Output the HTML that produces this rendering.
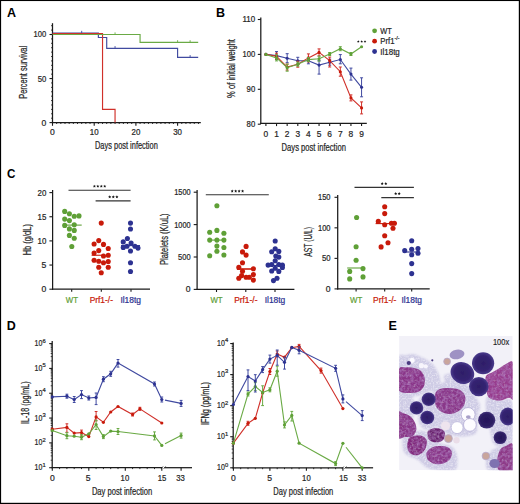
<!DOCTYPE html>
<html><head><meta charset="utf-8"><style>
html,body{margin:0;padding:0;background:#fff;}
svg{display:block;}
text{font-family:"Liberation Sans",sans-serif;}
</style></head><body>
<svg width="520" height="504" viewBox="0 0 520 504">
<rect x="0" y="0" width="520" height="504" fill="#fff"/>
<line x1="51.10" y1="118.19" x2="52.50" y2="118.19" stroke="#1a1a1a" stroke-width="0.9" />
<line x1="51.10" y1="113.79" x2="52.50" y2="113.79" stroke="#1a1a1a" stroke-width="0.9" />
<line x1="51.10" y1="109.38" x2="52.50" y2="109.38" stroke="#1a1a1a" stroke-width="0.9" />
<line x1="51.10" y1="104.98" x2="52.50" y2="104.98" stroke="#1a1a1a" stroke-width="0.9" />
<line x1="51.10" y1="100.57" x2="52.50" y2="100.57" stroke="#1a1a1a" stroke-width="0.9" />
<line x1="51.10" y1="96.17" x2="52.50" y2="96.17" stroke="#1a1a1a" stroke-width="0.9" />
<line x1="51.10" y1="91.77" x2="52.50" y2="91.77" stroke="#1a1a1a" stroke-width="0.9" />
<line x1="51.10" y1="87.36" x2="52.50" y2="87.36" stroke="#1a1a1a" stroke-width="0.9" />
<line x1="51.10" y1="82.95" x2="52.50" y2="82.95" stroke="#1a1a1a" stroke-width="0.9" />
<line x1="51.10" y1="74.15" x2="52.50" y2="74.15" stroke="#1a1a1a" stroke-width="0.9" />
<line x1="51.10" y1="69.74" x2="52.50" y2="69.74" stroke="#1a1a1a" stroke-width="0.9" />
<line x1="51.10" y1="65.34" x2="52.50" y2="65.34" stroke="#1a1a1a" stroke-width="0.9" />
<line x1="51.10" y1="60.93" x2="52.50" y2="60.93" stroke="#1a1a1a" stroke-width="0.9" />
<line x1="51.10" y1="56.53" x2="52.50" y2="56.53" stroke="#1a1a1a" stroke-width="0.9" />
<line x1="51.10" y1="52.12" x2="52.50" y2="52.12" stroke="#1a1a1a" stroke-width="0.9" />
<line x1="51.10" y1="47.72" x2="52.50" y2="47.72" stroke="#1a1a1a" stroke-width="0.9" />
<line x1="51.10" y1="43.31" x2="52.50" y2="43.31" stroke="#1a1a1a" stroke-width="0.9" />
<line x1="51.10" y1="38.91" x2="52.50" y2="38.91" stroke="#1a1a1a" stroke-width="0.9" />
<line x1="51.10" y1="30.09" x2="52.50" y2="30.09" stroke="#1a1a1a" stroke-width="0.9" />
<line x1="51.10" y1="25.69" x2="52.50" y2="25.69" stroke="#1a1a1a" stroke-width="0.9" />
<line x1="49.50" y1="122.60" x2="52.50" y2="122.60" stroke="#1a1a1a" stroke-width="1.1" />
<line x1="49.50" y1="78.55" x2="52.50" y2="78.55" stroke="#1a1a1a" stroke-width="1.1" />
<line x1="49.50" y1="34.50" x2="52.50" y2="34.50" stroke="#1a1a1a" stroke-width="1.1" />
<line x1="56.67" y1="122.60" x2="56.67" y2="124.00" stroke="#1a1a1a" stroke-width="0.9" />
<line x1="60.84" y1="122.60" x2="60.84" y2="124.00" stroke="#1a1a1a" stroke-width="0.9" />
<line x1="65.01" y1="122.60" x2="65.01" y2="124.00" stroke="#1a1a1a" stroke-width="0.9" />
<line x1="69.18" y1="122.60" x2="69.18" y2="124.00" stroke="#1a1a1a" stroke-width="0.9" />
<line x1="73.35" y1="122.60" x2="73.35" y2="124.00" stroke="#1a1a1a" stroke-width="0.9" />
<line x1="77.52" y1="122.60" x2="77.52" y2="124.00" stroke="#1a1a1a" stroke-width="0.9" />
<line x1="81.69" y1="122.60" x2="81.69" y2="124.00" stroke="#1a1a1a" stroke-width="0.9" />
<line x1="85.86" y1="122.60" x2="85.86" y2="124.00" stroke="#1a1a1a" stroke-width="0.9" />
<line x1="90.03" y1="122.60" x2="90.03" y2="124.00" stroke="#1a1a1a" stroke-width="0.9" />
<line x1="98.37" y1="122.60" x2="98.37" y2="124.00" stroke="#1a1a1a" stroke-width="0.9" />
<line x1="102.54" y1="122.60" x2="102.54" y2="124.00" stroke="#1a1a1a" stroke-width="0.9" />
<line x1="106.71" y1="122.60" x2="106.71" y2="124.00" stroke="#1a1a1a" stroke-width="0.9" />
<line x1="110.88" y1="122.60" x2="110.88" y2="124.00" stroke="#1a1a1a" stroke-width="0.9" />
<line x1="115.05" y1="122.60" x2="115.05" y2="124.00" stroke="#1a1a1a" stroke-width="0.9" />
<line x1="119.22" y1="122.60" x2="119.22" y2="124.00" stroke="#1a1a1a" stroke-width="0.9" />
<line x1="123.39" y1="122.60" x2="123.39" y2="124.00" stroke="#1a1a1a" stroke-width="0.9" />
<line x1="127.56" y1="122.60" x2="127.56" y2="124.00" stroke="#1a1a1a" stroke-width="0.9" />
<line x1="131.73" y1="122.60" x2="131.73" y2="124.00" stroke="#1a1a1a" stroke-width="0.9" />
<line x1="140.07" y1="122.60" x2="140.07" y2="124.00" stroke="#1a1a1a" stroke-width="0.9" />
<line x1="144.24" y1="122.60" x2="144.24" y2="124.00" stroke="#1a1a1a" stroke-width="0.9" />
<line x1="148.41" y1="122.60" x2="148.41" y2="124.00" stroke="#1a1a1a" stroke-width="0.9" />
<line x1="152.58" y1="122.60" x2="152.58" y2="124.00" stroke="#1a1a1a" stroke-width="0.9" />
<line x1="156.75" y1="122.60" x2="156.75" y2="124.00" stroke="#1a1a1a" stroke-width="0.9" />
<line x1="160.92" y1="122.60" x2="160.92" y2="124.00" stroke="#1a1a1a" stroke-width="0.9" />
<line x1="165.09" y1="122.60" x2="165.09" y2="124.00" stroke="#1a1a1a" stroke-width="0.9" />
<line x1="169.26" y1="122.60" x2="169.26" y2="124.00" stroke="#1a1a1a" stroke-width="0.9" />
<line x1="173.43" y1="122.60" x2="173.43" y2="124.00" stroke="#1a1a1a" stroke-width="0.9" />
<line x1="181.77" y1="122.60" x2="181.77" y2="124.00" stroke="#1a1a1a" stroke-width="0.9" />
<line x1="185.94" y1="122.60" x2="185.94" y2="124.00" stroke="#1a1a1a" stroke-width="0.9" />
<line x1="190.11" y1="122.60" x2="190.11" y2="124.00" stroke="#1a1a1a" stroke-width="0.9" />
<line x1="194.28" y1="122.60" x2="194.28" y2="124.00" stroke="#1a1a1a" stroke-width="0.9" />
<line x1="198.45" y1="122.60" x2="198.45" y2="124.00" stroke="#1a1a1a" stroke-width="0.9" />
<line x1="52.50" y1="122.60" x2="52.50" y2="125.80" stroke="#1a1a1a" stroke-width="1.1" />
<line x1="94.20" y1="122.60" x2="94.20" y2="125.80" stroke="#1a1a1a" stroke-width="1.1" />
<line x1="135.90" y1="122.60" x2="135.90" y2="125.80" stroke="#1a1a1a" stroke-width="1.1" />
<line x1="177.60" y1="122.60" x2="177.60" y2="125.80" stroke="#1a1a1a" stroke-width="1.1" />
<line x1="52.50" y1="23.20" x2="52.50" y2="123.20" stroke="#1a1a1a" stroke-width="1.25" />
<line x1="51.90" y1="122.60" x2="200.80" y2="122.60" stroke="#1a1a1a" stroke-width="1.25" />
<text x="46.30" y="37.46" font-size="8.6" text-anchor="end" fill="#262626" font-weight="normal" stroke="#262626" stroke-width="0.22" textLength="12.70" lengthAdjust="spacingAndGlyphs" >100</text>
<text x="46.30" y="81.51" font-size="8.6" text-anchor="end" fill="#262626" font-weight="normal" stroke="#262626" stroke-width="0.22" textLength="8.60" lengthAdjust="spacingAndGlyphs" >50</text>
<text x="46.30" y="125.56" font-size="8.6" text-anchor="end" fill="#262626" font-weight="normal" stroke="#262626" stroke-width="0.22" >0</text>
<text x="52.50" y="134.76" font-size="8.6" text-anchor="middle" fill="#262626" font-weight="normal" stroke="#262626" stroke-width="0.22" >0</text>
<text x="94.20" y="134.76" font-size="8.6" text-anchor="middle" fill="#262626" font-weight="normal" stroke="#262626" stroke-width="0.22" textLength="8.80" lengthAdjust="spacingAndGlyphs" >10</text>
<text x="135.90" y="134.76" font-size="8.6" text-anchor="middle" fill="#262626" font-weight="normal" stroke="#262626" stroke-width="0.22" textLength="8.80" lengthAdjust="spacingAndGlyphs" >20</text>
<text x="177.60" y="134.76" font-size="8.6" text-anchor="middle" fill="#262626" font-weight="normal" stroke="#262626" stroke-width="0.22" textLength="8.80" lengthAdjust="spacingAndGlyphs" >30</text>
<text transform="translate(26.90,72.30) rotate(-90)" font-size="10.0" text-anchor="middle" fill="#262626" stroke="#262626" stroke-width="0.22" textLength="52.90" lengthAdjust="spacingAndGlyphs">Percent survival</text>
<text x="95.00" y="148.70" font-size="10.0" text-anchor="start" fill="#262626" font-weight="normal" stroke="#262626" stroke-width="0.22" textLength="62.80" lengthAdjust="spacingAndGlyphs" >Days post infection</text>
<polyline points="52.50,33.00 98.37,33.00 98.37,37.50 106.71,37.50 106.71,48.30 177.60,48.30 177.60,57.30 198.20,57.30" fill="none" stroke="#404aa0" stroke-width="1.15" stroke-linejoin="miter" />
<polyline points="52.50,33.50 102.54,33.50 102.54,109.40 115.05,109.40 115.05,122.60" fill="none" stroke="#d0302a" stroke-width="1.15" stroke-linejoin="miter" />
<polyline points="52.50,34.50 140.07,34.50 140.07,42.40 198.20,42.40" fill="none" stroke="#6aaa45" stroke-width="1.15" stroke-linejoin="miter" />
<line x1="81.69" y1="33.00" x2="81.69" y2="30.80" stroke="#404aa0" stroke-width="0.9" />
<line x1="115.05" y1="34.60" x2="115.05" y2="32.40" stroke="#6aaa45" stroke-width="0.9" />
<line x1="115.05" y1="48.30" x2="115.05" y2="46.10" stroke="#404aa0" stroke-width="0.9" />
<line x1="177.60" y1="42.40" x2="177.60" y2="40.20" stroke="#6aaa45" stroke-width="0.9" />
<line x1="190.11" y1="42.40" x2="190.11" y2="40.20" stroke="#6aaa45" stroke-width="0.9" />
<line x1="190.11" y1="57.30" x2="190.11" y2="55.10" stroke="#404aa0" stroke-width="0.9" />
<text x="7.00" y="17.10" font-size="12.5" text-anchor="start" fill="#000" font-weight="bold" >A</text>
<line x1="257.80" y1="19.50" x2="260.80" y2="19.50" stroke="#1a1a1a" stroke-width="1.1" />
<text x="255.20" y="22.46" font-size="8.6" text-anchor="end" fill="#262626" font-weight="normal" stroke="#262626" stroke-width="0.22" textLength="12.70" lengthAdjust="spacingAndGlyphs" >110</text>
<line x1="257.80" y1="54.40" x2="260.80" y2="54.40" stroke="#1a1a1a" stroke-width="1.1" />
<text x="255.20" y="57.36" font-size="8.6" text-anchor="end" fill="#262626" font-weight="normal" stroke="#262626" stroke-width="0.22" textLength="12.70" lengthAdjust="spacingAndGlyphs" >100</text>
<line x1="257.80" y1="89.30" x2="260.80" y2="89.30" stroke="#1a1a1a" stroke-width="1.1" />
<text x="255.20" y="92.26" font-size="8.6" text-anchor="end" fill="#262626" font-weight="normal" stroke="#262626" stroke-width="0.22" textLength="8.60" lengthAdjust="spacingAndGlyphs" >90</text>
<line x1="257.80" y1="124.20" x2="260.80" y2="124.20" stroke="#1a1a1a" stroke-width="1.1" />
<text x="255.20" y="127.16" font-size="8.6" text-anchor="end" fill="#262626" font-weight="normal" stroke="#262626" stroke-width="0.22" textLength="8.60" lengthAdjust="spacingAndGlyphs" >80</text>
<line x1="265.90" y1="123.30" x2="265.90" y2="126.10" stroke="#1a1a1a" stroke-width="1.1" />
<text x="265.90" y="137.09" font-size="8.4" text-anchor="middle" fill="#262626" font-weight="normal" stroke="#262626" stroke-width="0.22" >0</text>
<line x1="276.53" y1="123.30" x2="276.53" y2="126.10" stroke="#1a1a1a" stroke-width="1.1" />
<text x="276.53" y="137.09" font-size="8.4" text-anchor="middle" fill="#262626" font-weight="normal" stroke="#262626" stroke-width="0.22" >1</text>
<line x1="287.16" y1="123.30" x2="287.16" y2="126.10" stroke="#1a1a1a" stroke-width="1.1" />
<text x="287.16" y="137.09" font-size="8.4" text-anchor="middle" fill="#262626" font-weight="normal" stroke="#262626" stroke-width="0.22" >2</text>
<line x1="297.79" y1="123.30" x2="297.79" y2="126.10" stroke="#1a1a1a" stroke-width="1.1" />
<text x="297.79" y="137.09" font-size="8.4" text-anchor="middle" fill="#262626" font-weight="normal" stroke="#262626" stroke-width="0.22" >3</text>
<line x1="308.42" y1="123.30" x2="308.42" y2="126.10" stroke="#1a1a1a" stroke-width="1.1" />
<text x="308.42" y="137.09" font-size="8.4" text-anchor="middle" fill="#262626" font-weight="normal" stroke="#262626" stroke-width="0.22" >4</text>
<line x1="319.05" y1="123.30" x2="319.05" y2="126.10" stroke="#1a1a1a" stroke-width="1.1" />
<text x="319.05" y="137.09" font-size="8.4" text-anchor="middle" fill="#262626" font-weight="normal" stroke="#262626" stroke-width="0.22" >5</text>
<line x1="329.68" y1="123.30" x2="329.68" y2="126.10" stroke="#1a1a1a" stroke-width="1.1" />
<text x="329.68" y="137.09" font-size="8.4" text-anchor="middle" fill="#262626" font-weight="normal" stroke="#262626" stroke-width="0.22" >6</text>
<line x1="340.31" y1="123.30" x2="340.31" y2="126.10" stroke="#1a1a1a" stroke-width="1.1" />
<text x="340.31" y="137.09" font-size="8.4" text-anchor="middle" fill="#262626" font-weight="normal" stroke="#262626" stroke-width="0.22" >7</text>
<line x1="350.94" y1="123.30" x2="350.94" y2="126.10" stroke="#1a1a1a" stroke-width="1.1" />
<text x="350.94" y="137.09" font-size="8.4" text-anchor="middle" fill="#262626" font-weight="normal" stroke="#262626" stroke-width="0.22" >8</text>
<line x1="361.57" y1="123.30" x2="361.57" y2="126.10" stroke="#1a1a1a" stroke-width="1.1" />
<text x="361.57" y="137.09" font-size="8.4" text-anchor="middle" fill="#262626" font-weight="normal" stroke="#262626" stroke-width="0.22" >9</text>
<line x1="260.80" y1="17.40" x2="260.80" y2="123.90" stroke="#1a1a1a" stroke-width="1.25" />
<line x1="260.20" y1="123.30" x2="366.80" y2="123.30" stroke="#1a1a1a" stroke-width="1.25" />
<text transform="translate(235.00,68.50) rotate(-90)" font-size="10.0" text-anchor="middle" fill="#262626" stroke="#262626" stroke-width="0.22" textLength="59.00" lengthAdjust="spacingAndGlyphs">% of initial weight</text>
<text x="281.60" y="151.10" font-size="10.0" text-anchor="start" fill="#262626" font-weight="normal" stroke="#262626" stroke-width="0.22" textLength="64.30" lengthAdjust="spacingAndGlyphs" >Days post infection</text>
<text x="216.00" y="17.10" font-size="12.5" text-anchor="start" fill="#000" font-weight="bold" >B</text>
<polyline points="265.90,54.40 276.53,55.60 287.16,58.20 297.79,60.80 308.42,60.80 319.05,65.10 329.68,62.20 340.31,59.50 350.94,74.10 361.57,87.30" fill="none" stroke="#404aa0" stroke-width="1.1" stroke-linejoin="miter" />
<circle cx="265.90" cy="54.40" r="1.55" fill="#2d3291" />
<line x1="276.53" y1="51.60" x2="276.53" y2="59.60" stroke="#404aa0" stroke-width="1.0" />
<line x1="275.03" y1="51.60" x2="278.03" y2="51.60" stroke="#404aa0" stroke-width="1.0" />
<line x1="275.03" y1="59.60" x2="278.03" y2="59.60" stroke="#404aa0" stroke-width="1.0" />
<circle cx="276.53" cy="55.60" r="1.55" fill="#2d3291" />
<line x1="287.16" y1="53.70" x2="287.16" y2="62.70" stroke="#404aa0" stroke-width="1.0" />
<line x1="285.66" y1="53.70" x2="288.66" y2="53.70" stroke="#404aa0" stroke-width="1.0" />
<line x1="285.66" y1="62.70" x2="288.66" y2="62.70" stroke="#404aa0" stroke-width="1.0" />
<circle cx="287.16" cy="58.20" r="1.55" fill="#2d3291" />
<line x1="297.79" y1="57.30" x2="297.79" y2="64.30" stroke="#404aa0" stroke-width="1.0" />
<line x1="296.29" y1="57.30" x2="299.29" y2="57.30" stroke="#404aa0" stroke-width="1.0" />
<line x1="296.29" y1="64.30" x2="299.29" y2="64.30" stroke="#404aa0" stroke-width="1.0" />
<circle cx="297.79" cy="60.80" r="1.55" fill="#2d3291" />
<line x1="308.42" y1="57.80" x2="308.42" y2="63.80" stroke="#404aa0" stroke-width="1.0" />
<line x1="306.92" y1="57.80" x2="309.92" y2="57.80" stroke="#404aa0" stroke-width="1.0" />
<line x1="306.92" y1="63.80" x2="309.92" y2="63.80" stroke="#404aa0" stroke-width="1.0" />
<circle cx="308.42" cy="60.80" r="1.55" fill="#2d3291" />
<line x1="319.05" y1="60.60" x2="319.05" y2="74.10" stroke="#404aa0" stroke-width="1.0" />
<line x1="317.55" y1="60.60" x2="320.55" y2="60.60" stroke="#404aa0" stroke-width="1.0" />
<line x1="317.55" y1="74.10" x2="320.55" y2="74.10" stroke="#404aa0" stroke-width="1.0" />
<circle cx="319.05" cy="65.10" r="1.55" fill="#2d3291" />
<line x1="329.68" y1="59.20" x2="329.68" y2="65.20" stroke="#404aa0" stroke-width="1.0" />
<line x1="328.18" y1="59.20" x2="331.18" y2="59.20" stroke="#404aa0" stroke-width="1.0" />
<line x1="328.18" y1="65.20" x2="331.18" y2="65.20" stroke="#404aa0" stroke-width="1.0" />
<circle cx="329.68" cy="62.20" r="1.55" fill="#2d3291" />
<line x1="340.31" y1="54.60" x2="340.31" y2="63.80" stroke="#404aa0" stroke-width="1.0" />
<line x1="338.81" y1="54.60" x2="341.81" y2="54.60" stroke="#404aa0" stroke-width="1.0" />
<line x1="338.81" y1="63.80" x2="341.81" y2="63.80" stroke="#404aa0" stroke-width="1.0" />
<circle cx="340.31" cy="59.50" r="1.55" fill="#2d3291" />
<line x1="350.94" y1="68.10" x2="350.94" y2="80.10" stroke="#404aa0" stroke-width="1.0" />
<line x1="349.44" y1="68.10" x2="352.44" y2="68.10" stroke="#404aa0" stroke-width="1.0" />
<line x1="349.44" y1="80.10" x2="352.44" y2="80.10" stroke="#404aa0" stroke-width="1.0" />
<circle cx="350.94" cy="74.10" r="1.55" fill="#2d3291" />
<line x1="361.57" y1="77.80" x2="361.57" y2="96.80" stroke="#404aa0" stroke-width="1.0" />
<line x1="360.07" y1="77.80" x2="363.07" y2="77.80" stroke="#404aa0" stroke-width="1.0" />
<line x1="360.07" y1="96.80" x2="363.07" y2="96.80" stroke="#404aa0" stroke-width="1.0" />
<circle cx="361.57" cy="87.30" r="1.55" fill="#2d3291" />
<polyline points="265.90,54.40 276.53,56.20 287.16,67.10 297.79,64.20 308.42,57.90 319.05,52.40 329.68,60.60 340.31,71.70 350.94,97.90 361.57,107.90" fill="none" stroke="#d0302a" stroke-width="1.1" stroke-linejoin="miter" />
<circle cx="265.90" cy="54.40" r="1.55" fill="#c81a0a" />
<line x1="276.53" y1="53.20" x2="276.53" y2="59.20" stroke="#d0302a" stroke-width="1.0" />
<line x1="275.03" y1="53.20" x2="278.03" y2="53.20" stroke="#d0302a" stroke-width="1.0" />
<line x1="275.03" y1="59.20" x2="278.03" y2="59.20" stroke="#d0302a" stroke-width="1.0" />
<circle cx="276.53" cy="56.20" r="1.55" fill="#c81a0a" />
<line x1="287.16" y1="64.10" x2="287.16" y2="70.10" stroke="#d0302a" stroke-width="1.0" />
<line x1="285.66" y1="64.10" x2="288.66" y2="64.10" stroke="#d0302a" stroke-width="1.0" />
<line x1="285.66" y1="70.10" x2="288.66" y2="70.10" stroke="#d0302a" stroke-width="1.0" />
<circle cx="287.16" cy="67.10" r="1.55" fill="#c81a0a" />
<line x1="297.79" y1="61.20" x2="297.79" y2="67.20" stroke="#d0302a" stroke-width="1.0" />
<line x1="296.29" y1="61.20" x2="299.29" y2="61.20" stroke="#d0302a" stroke-width="1.0" />
<line x1="296.29" y1="67.20" x2="299.29" y2="67.20" stroke="#d0302a" stroke-width="1.0" />
<circle cx="297.79" cy="64.20" r="1.55" fill="#c81a0a" />
<line x1="308.42" y1="53.90" x2="308.42" y2="61.90" stroke="#d0302a" stroke-width="1.0" />
<line x1="306.92" y1="53.90" x2="309.92" y2="53.90" stroke="#d0302a" stroke-width="1.0" />
<line x1="306.92" y1="61.90" x2="309.92" y2="61.90" stroke="#d0302a" stroke-width="1.0" />
<circle cx="308.42" cy="57.90" r="1.55" fill="#c81a0a" />
<line x1="319.05" y1="48.90" x2="319.05" y2="55.90" stroke="#d0302a" stroke-width="1.0" />
<line x1="317.55" y1="48.90" x2="320.55" y2="48.90" stroke="#d0302a" stroke-width="1.0" />
<line x1="317.55" y1="55.90" x2="320.55" y2="55.90" stroke="#d0302a" stroke-width="1.0" />
<circle cx="319.05" cy="52.40" r="1.55" fill="#c81a0a" />
<line x1="329.68" y1="57.10" x2="329.68" y2="67.00" stroke="#d0302a" stroke-width="1.0" />
<line x1="328.18" y1="57.10" x2="331.18" y2="57.10" stroke="#d0302a" stroke-width="1.0" />
<line x1="328.18" y1="67.00" x2="331.18" y2="67.00" stroke="#d0302a" stroke-width="1.0" />
<circle cx="329.68" cy="60.60" r="1.55" fill="#c81a0a" />
<line x1="340.31" y1="67.00" x2="340.31" y2="76.20" stroke="#d0302a" stroke-width="1.0" />
<line x1="338.81" y1="67.00" x2="341.81" y2="67.00" stroke="#d0302a" stroke-width="1.0" />
<line x1="338.81" y1="76.20" x2="341.81" y2="76.20" stroke="#d0302a" stroke-width="1.0" />
<circle cx="340.31" cy="71.70" r="1.55" fill="#c81a0a" />
<line x1="350.94" y1="94.90" x2="350.94" y2="100.90" stroke="#d0302a" stroke-width="1.0" />
<line x1="349.44" y1="94.90" x2="352.44" y2="94.90" stroke="#d0302a" stroke-width="1.0" />
<line x1="349.44" y1="100.90" x2="352.44" y2="100.90" stroke="#d0302a" stroke-width="1.0" />
<circle cx="350.94" cy="97.90" r="1.55" fill="#c81a0a" />
<line x1="361.57" y1="101.90" x2="361.57" y2="113.90" stroke="#d0302a" stroke-width="1.0" />
<line x1="360.07" y1="101.90" x2="363.07" y2="101.90" stroke="#d0302a" stroke-width="1.0" />
<line x1="360.07" y1="113.90" x2="363.07" y2="113.90" stroke="#d0302a" stroke-width="1.0" />
<circle cx="361.57" cy="107.90" r="1.55" fill="#c81a0a" />
<polyline points="265.90,54.40 276.53,57.90 287.16,67.70 297.79,64.20 308.42,59.60 319.05,58.70 329.68,54.00 340.31,48.70 350.94,54.00 361.57,46.70" fill="none" stroke="#6aaa45" stroke-width="1.1" stroke-linejoin="miter" />
<circle cx="265.90" cy="54.40" r="1.55" fill="#5fa037" />
<line x1="276.53" y1="54.90" x2="276.53" y2="60.90" stroke="#6aaa45" stroke-width="1.0" />
<line x1="275.03" y1="54.90" x2="278.03" y2="54.90" stroke="#6aaa45" stroke-width="1.0" />
<line x1="275.03" y1="60.90" x2="278.03" y2="60.90" stroke="#6aaa45" stroke-width="1.0" />
<circle cx="276.53" cy="57.90" r="1.55" fill="#5fa037" />
<line x1="287.16" y1="64.20" x2="287.16" y2="71.20" stroke="#6aaa45" stroke-width="1.0" />
<line x1="285.66" y1="64.20" x2="288.66" y2="64.20" stroke="#6aaa45" stroke-width="1.0" />
<line x1="285.66" y1="71.20" x2="288.66" y2="71.20" stroke="#6aaa45" stroke-width="1.0" />
<circle cx="287.16" cy="67.70" r="1.55" fill="#5fa037" />
<line x1="297.79" y1="62.20" x2="297.79" y2="66.20" stroke="#6aaa45" stroke-width="1.0" />
<line x1="296.29" y1="62.20" x2="299.29" y2="62.20" stroke="#6aaa45" stroke-width="1.0" />
<line x1="296.29" y1="66.20" x2="299.29" y2="66.20" stroke="#6aaa45" stroke-width="1.0" />
<circle cx="297.79" cy="64.20" r="1.55" fill="#5fa037" />
<line x1="308.42" y1="57.60" x2="308.42" y2="61.60" stroke="#6aaa45" stroke-width="1.0" />
<line x1="306.92" y1="57.60" x2="309.92" y2="57.60" stroke="#6aaa45" stroke-width="1.0" />
<line x1="306.92" y1="61.60" x2="309.92" y2="61.60" stroke="#6aaa45" stroke-width="1.0" />
<circle cx="308.42" cy="59.60" r="1.55" fill="#5fa037" />
<line x1="319.05" y1="56.20" x2="319.05" y2="61.20" stroke="#6aaa45" stroke-width="1.0" />
<line x1="317.55" y1="56.20" x2="320.55" y2="56.20" stroke="#6aaa45" stroke-width="1.0" />
<line x1="317.55" y1="61.20" x2="320.55" y2="61.20" stroke="#6aaa45" stroke-width="1.0" />
<circle cx="319.05" cy="58.70" r="1.55" fill="#5fa037" />
<line x1="329.68" y1="52.50" x2="329.68" y2="55.50" stroke="#6aaa45" stroke-width="1.0" />
<line x1="328.18" y1="52.50" x2="331.18" y2="52.50" stroke="#6aaa45" stroke-width="1.0" />
<line x1="328.18" y1="55.50" x2="331.18" y2="55.50" stroke="#6aaa45" stroke-width="1.0" />
<circle cx="329.68" cy="54.00" r="1.55" fill="#5fa037" />
<line x1="340.31" y1="46.70" x2="340.31" y2="50.70" stroke="#6aaa45" stroke-width="1.0" />
<line x1="338.81" y1="46.70" x2="341.81" y2="46.70" stroke="#6aaa45" stroke-width="1.0" />
<line x1="338.81" y1="50.70" x2="341.81" y2="50.70" stroke="#6aaa45" stroke-width="1.0" />
<circle cx="340.31" cy="48.70" r="1.55" fill="#5fa037" />
<line x1="350.94" y1="52.50" x2="350.94" y2="55.50" stroke="#6aaa45" stroke-width="1.0" />
<line x1="349.44" y1="52.50" x2="352.44" y2="52.50" stroke="#6aaa45" stroke-width="1.0" />
<line x1="349.44" y1="55.50" x2="352.44" y2="55.50" stroke="#6aaa45" stroke-width="1.0" />
<circle cx="350.94" cy="54.00" r="1.55" fill="#5fa037" />
<circle cx="361.57" cy="46.70" r="1.55" fill="#5fa037" />
<circle cx="374.60" cy="30.80" r="2.4" fill="#5fa037" />
<circle cx="374.60" cy="41.20" r="2.4" fill="#c81a0a" />
<circle cx="374.60" cy="51.50" r="2.4" fill="#2d3291" />
<text x="380.30" y="33.90" font-size="8.8" text-anchor="start" fill="#262626" font-weight="normal" stroke="#262626" stroke-width="0.22" textLength="11.50" lengthAdjust="spacingAndGlyphs" >WT</text>
<text x="380.30" y="44.30" font-size="8.8" text-anchor="start" fill="#262626" font-weight="normal" stroke="#262626" stroke-width="0.22" textLength="14.20" lengthAdjust="spacingAndGlyphs" >Prf1</text>
<text x="394.60" y="39.60" font-size="5" text-anchor="start" fill="#262626" font-weight="normal" stroke="#262626" stroke-width="0.22" textLength="5.00" lengthAdjust="spacingAndGlyphs" >-/-</text>
<text x="380.30" y="54.60" font-size="8.8" text-anchor="start" fill="#262626" font-weight="normal" stroke="#262626" stroke-width="0.22" textLength="19.50" lengthAdjust="spacingAndGlyphs" >Il18tg</text>
<polygon points="358.30,40.15 358.70,40.95 359.58,41.08 358.94,41.71 359.09,42.59 358.30,42.17 357.51,42.59 357.66,41.71 357.02,41.08 357.90,40.95" fill="#1a1a1a"/>
<polygon points="361.70,40.15 362.10,40.95 362.98,41.08 362.34,41.71 362.49,42.59 361.70,42.17 360.91,42.59 361.06,41.71 360.42,41.08 361.30,40.95" fill="#1a1a1a"/>
<polygon points="365.00,40.15 365.40,40.95 366.28,41.08 365.64,41.71 365.79,42.59 365.00,42.17 364.21,42.59 364.36,41.71 363.72,41.08 364.60,40.95" fill="#1a1a1a"/>
<text x="7.00" y="177.60" font-size="12.5" text-anchor="start" fill="#000" font-weight="bold" textLength="8.40" lengthAdjust="spacingAndGlyphs" >C</text>
<line x1="49.40" y1="192.60" x2="52.60" y2="192.60" stroke="#1a1a1a" stroke-width="1.1" />
<text x="46.40" y="195.56" font-size="8.6" text-anchor="end" fill="#262626" font-weight="normal" stroke="#262626" stroke-width="0.22" textLength="8.80" lengthAdjust="spacingAndGlyphs" >20</text>
<line x1="49.40" y1="216.75" x2="52.60" y2="216.75" stroke="#1a1a1a" stroke-width="1.1" />
<text x="46.40" y="219.71" font-size="8.6" text-anchor="end" fill="#262626" font-weight="normal" stroke="#262626" stroke-width="0.22" textLength="8.80" lengthAdjust="spacingAndGlyphs" >15</text>
<line x1="49.40" y1="240.90" x2="52.60" y2="240.90" stroke="#1a1a1a" stroke-width="1.1" />
<text x="46.40" y="243.86" font-size="8.6" text-anchor="end" fill="#262626" font-weight="normal" stroke="#262626" stroke-width="0.22" textLength="8.80" lengthAdjust="spacingAndGlyphs" >10</text>
<line x1="49.40" y1="265.05" x2="52.60" y2="265.05" stroke="#1a1a1a" stroke-width="1.1" />
<text x="46.40" y="268.01" font-size="8.6" text-anchor="end" fill="#262626" font-weight="normal" stroke="#262626" stroke-width="0.22" >5</text>
<line x1="49.40" y1="289.20" x2="52.60" y2="289.20" stroke="#1a1a1a" stroke-width="1.1" />
<text x="46.40" y="292.16" font-size="8.6" text-anchor="end" fill="#262626" font-weight="normal" stroke="#262626" stroke-width="0.22" >0</text>
<line x1="71.70" y1="289.20" x2="71.70" y2="291.80" stroke="#1a1a1a" stroke-width="1.1" />
<line x1="101.30" y1="289.20" x2="101.30" y2="291.80" stroke="#1a1a1a" stroke-width="1.1" />
<line x1="131.00" y1="289.20" x2="131.00" y2="291.80" stroke="#1a1a1a" stroke-width="1.1" />
<line x1="52.60" y1="190.00" x2="52.60" y2="289.80" stroke="#1a1a1a" stroke-width="1.25" />
<line x1="52.00" y1="289.20" x2="150.00" y2="289.20" stroke="#1a1a1a" stroke-width="1.25" />
<text transform="translate(31.30,239.70) rotate(-90)" font-size="10.0" text-anchor="middle" fill="#262626" stroke="#262626" stroke-width="0.22" textLength="31.30" lengthAdjust="spacingAndGlyphs">Hb (g/dL)</text>
<text x="71.90" y="302.60" font-size="8.6" text-anchor="middle" fill="#5fa037" font-weight="normal" stroke="#5fa037" stroke-width="0.22" textLength="12.20" lengthAdjust="spacingAndGlyphs" >WT</text>
<text x="101.30" y="302.60" font-size="8.6" text-anchor="middle" fill="#c81a0a" font-weight="normal" stroke="#c81a0a" stroke-width="0.22" textLength="23.30" lengthAdjust="spacingAndGlyphs" >Prf1-/-</text>
<text x="130.70" y="302.60" font-size="8.6" text-anchor="middle" fill="#2d3291" font-weight="normal" stroke="#2d3291" stroke-width="0.22" textLength="20.60" lengthAdjust="spacingAndGlyphs" >Il18tg</text>
<line x1="68.50" y1="190.20" x2="130.60" y2="190.20" stroke="#333" stroke-width="1.1" />
<line x1="95.60" y1="200.90" x2="130.60" y2="200.90" stroke="#333" stroke-width="1.1" />
<polygon points="94.40,184.70 94.87,185.65 95.92,185.81 95.16,186.55 95.34,187.59 94.40,187.10 93.46,187.59 93.64,186.55 92.88,185.81 93.93,185.65" fill="#1a1a1a"/>
<polygon points="97.85,184.70 98.32,185.65 99.37,185.81 98.61,186.55 98.79,187.59 97.85,187.10 96.91,187.59 97.09,186.55 96.33,185.81 97.38,185.65" fill="#1a1a1a"/>
<polygon points="101.30,184.70 101.77,185.65 102.82,185.81 102.06,186.55 102.24,187.59 101.30,187.10 100.36,187.59 100.54,186.55 99.78,185.81 100.83,185.65" fill="#1a1a1a"/>
<polygon points="104.75,184.70 105.22,185.65 106.27,185.81 105.51,186.55 105.69,187.59 104.75,187.10 103.81,187.59 103.99,186.55 103.23,185.81 104.28,185.65" fill="#1a1a1a"/>
<polygon points="109.70,195.30 110.17,196.25 111.22,196.41 110.46,197.15 110.64,198.19 109.70,197.70 108.76,198.19 108.94,197.15 108.18,196.41 109.23,196.25" fill="#1a1a1a"/>
<polygon points="113.30,195.30 113.77,196.25 114.82,196.41 114.06,197.15 114.24,198.19 113.30,197.70 112.36,198.19 112.54,197.15 111.78,196.41 112.83,196.25" fill="#1a1a1a"/>
<polygon points="116.90,195.30 117.37,196.25 118.42,196.41 117.66,197.15 117.84,198.19 116.90,197.70 115.96,198.19 116.14,197.15 115.38,196.41 116.43,196.25" fill="#1a1a1a"/>
<circle cx="64.70" cy="211.40" r="2.55" fill="#5fa037" />
<circle cx="69.40" cy="213.75" r="2.55" fill="#5fa037" />
<circle cx="74.25" cy="216.20" r="2.55" fill="#5fa037" />
<circle cx="79.00" cy="215.90" r="2.55" fill="#5fa037" />
<circle cx="64.70" cy="219.10" r="2.55" fill="#5fa037" />
<circle cx="69.40" cy="220.60" r="2.55" fill="#5fa037" />
<circle cx="64.70" cy="225.40" r="2.55" fill="#5fa037" />
<circle cx="74.25" cy="224.80" r="2.55" fill="#5fa037" />
<circle cx="69.40" cy="228.90" r="2.55" fill="#5fa037" />
<circle cx="74.25" cy="230.40" r="2.55" fill="#5fa037" />
<circle cx="69.40" cy="235.40" r="2.55" fill="#5fa037" />
<circle cx="74.25" cy="238.20" r="2.55" fill="#5fa037" />
<circle cx="71.80" cy="246.50" r="2.55" fill="#5fa037" />
<line x1="64.70" y1="225.10" x2="81.70" y2="225.10" stroke="#5fa037" stroke-width="1.1" />
<circle cx="101.25" cy="223.10" r="2.55" fill="#c81a0a" />
<circle cx="98.75" cy="240.60" r="2.55" fill="#c81a0a" />
<circle cx="94.10" cy="244.00" r="2.55" fill="#c81a0a" />
<circle cx="103.50" cy="244.40" r="2.55" fill="#c81a0a" />
<circle cx="108.25" cy="248.50" r="2.55" fill="#c81a0a" />
<circle cx="98.75" cy="250.60" r="2.55" fill="#c81a0a" />
<circle cx="94.10" cy="253.10" r="2.55" fill="#c81a0a" />
<circle cx="103.50" cy="256.00" r="2.55" fill="#c81a0a" />
<circle cx="108.25" cy="255.25" r="2.55" fill="#c81a0a" />
<circle cx="94.10" cy="260.25" r="2.55" fill="#c81a0a" />
<circle cx="98.75" cy="261.25" r="2.55" fill="#c81a0a" />
<circle cx="103.50" cy="262.75" r="2.55" fill="#c81a0a" />
<circle cx="108.25" cy="261.50" r="2.55" fill="#c81a0a" />
<circle cx="98.75" cy="267.25" r="2.55" fill="#c81a0a" />
<circle cx="108.25" cy="267.25" r="2.55" fill="#c81a0a" />
<circle cx="101.25" cy="272.75" r="2.55" fill="#c81a0a" />
<line x1="91.60" y1="255.25" x2="104.00" y2="255.25" stroke="#c81a0a" stroke-width="1.1" />
<circle cx="130.50" cy="223.10" r="2.55" fill="#2d3291" />
<circle cx="130.50" cy="229.00" r="2.55" fill="#2d3291" />
<circle cx="127.40" cy="238.50" r="2.55" fill="#2d3291" />
<circle cx="123.25" cy="241.90" r="2.55" fill="#2d3291" />
<circle cx="131.10" cy="243.10" r="2.55" fill="#2d3291" />
<circle cx="123.25" cy="247.50" r="2.55" fill="#2d3291" />
<circle cx="127.00" cy="246.25" r="2.55" fill="#2d3291" />
<circle cx="134.90" cy="246.25" r="2.55" fill="#2d3291" />
<circle cx="138.00" cy="248.10" r="2.55" fill="#2d3291" />
<circle cx="130.50" cy="251.00" r="2.55" fill="#2d3291" />
<circle cx="130.50" cy="262.75" r="2.55" fill="#2d3291" />
<circle cx="130.50" cy="271.50" r="2.55" fill="#2d3291" />
<line x1="121.00" y1="245.60" x2="140.00" y2="245.60" stroke="#2d3291" stroke-width="1.1" />
<line x1="193.70" y1="192.20" x2="197.10" y2="192.20" stroke="#1a1a1a" stroke-width="1.1" />
<text x="190.60" y="195.16" font-size="8.6" text-anchor="end" fill="#262626" font-weight="normal" stroke="#262626" stroke-width="0.22" textLength="16.40" lengthAdjust="spacingAndGlyphs" >1500</text>
<line x1="193.70" y1="224.60" x2="197.10" y2="224.60" stroke="#1a1a1a" stroke-width="1.1" />
<text x="190.60" y="227.56" font-size="8.6" text-anchor="end" fill="#262626" font-weight="normal" stroke="#262626" stroke-width="0.22" textLength="16.40" lengthAdjust="spacingAndGlyphs" >1000</text>
<line x1="193.70" y1="257.00" x2="197.10" y2="257.00" stroke="#1a1a1a" stroke-width="1.1" />
<text x="190.60" y="259.96" font-size="8.6" text-anchor="end" fill="#262626" font-weight="normal" stroke="#262626" stroke-width="0.22" textLength="12.50" lengthAdjust="spacingAndGlyphs" >500</text>
<line x1="193.70" y1="289.40" x2="197.10" y2="289.40" stroke="#1a1a1a" stroke-width="1.1" />
<text x="190.60" y="292.36" font-size="8.6" text-anchor="end" fill="#262626" font-weight="normal" stroke="#262626" stroke-width="0.22" >0</text>
<line x1="216.50" y1="289.40" x2="216.50" y2="292.00" stroke="#1a1a1a" stroke-width="1.1" />
<line x1="245.80" y1="289.40" x2="245.80" y2="292.00" stroke="#1a1a1a" stroke-width="1.1" />
<line x1="275.00" y1="289.40" x2="275.00" y2="292.00" stroke="#1a1a1a" stroke-width="1.1" />
<line x1="197.10" y1="190.00" x2="197.10" y2="290.00" stroke="#1a1a1a" stroke-width="1.25" />
<line x1="196.50" y1="289.40" x2="294.40" y2="289.40" stroke="#1a1a1a" stroke-width="1.25" />
<text transform="translate(168.30,239.20) rotate(-90)" font-size="10.0" text-anchor="middle" fill="#262626" stroke="#262626" stroke-width="0.22" textLength="51.60" lengthAdjust="spacingAndGlyphs">Platelets (K/uL)</text>
<text x="216.50" y="302.70" font-size="8.6" text-anchor="middle" fill="#5fa037" font-weight="normal" stroke="#5fa037" stroke-width="0.22" textLength="12.20" lengthAdjust="spacingAndGlyphs" >WT</text>
<text x="245.80" y="302.70" font-size="8.6" text-anchor="middle" fill="#c81a0a" font-weight="normal" stroke="#c81a0a" stroke-width="0.22" textLength="23.30" lengthAdjust="spacingAndGlyphs" >Prf1-/-</text>
<text x="275.00" y="302.70" font-size="8.6" text-anchor="middle" fill="#2d3291" font-weight="normal" stroke="#2d3291" stroke-width="0.22" textLength="20.60" lengthAdjust="spacingAndGlyphs" >Il18tg</text>
<line x1="205.80" y1="194.80" x2="268.80" y2="194.80" stroke="#333" stroke-width="1.1" />
<polygon points="232.20,189.50 232.67,190.45 233.72,190.61 232.96,191.35 233.14,192.39 232.20,191.90 231.26,192.39 231.44,191.35 230.68,190.61 231.73,190.45" fill="#1a1a1a"/>
<polygon points="235.70,189.50 236.17,190.45 237.22,190.61 236.46,191.35 236.64,192.39 235.70,191.90 234.76,192.39 234.94,191.35 234.18,190.61 235.23,190.45" fill="#1a1a1a"/>
<polygon points="239.10,189.50 239.57,190.45 240.62,190.61 239.86,191.35 240.04,192.39 239.10,191.90 238.16,192.39 238.34,191.35 237.58,190.61 238.63,190.45" fill="#1a1a1a"/>
<polygon points="242.60,189.50 243.07,190.45 244.12,190.61 243.36,191.35 243.54,192.39 242.60,191.90 241.66,192.39 241.84,191.35 241.08,190.61 242.13,190.45" fill="#1a1a1a"/>
<circle cx="216.90" cy="205.80" r="2.55" fill="#5fa037" />
<circle cx="209.70" cy="232.20" r="2.55" fill="#5fa037" />
<circle cx="216.90" cy="230.40" r="2.55" fill="#5fa037" />
<circle cx="223.90" cy="233.20" r="2.55" fill="#5fa037" />
<circle cx="209.70" cy="240.10" r="2.55" fill="#5fa037" />
<circle cx="216.90" cy="240.10" r="2.55" fill="#5fa037" />
<circle cx="223.90" cy="240.10" r="2.55" fill="#5fa037" />
<circle cx="216.90" cy="246.10" r="2.55" fill="#5fa037" />
<circle cx="223.90" cy="247.50" r="2.55" fill="#5fa037" />
<circle cx="216.90" cy="251.25" r="2.55" fill="#5fa037" />
<circle cx="209.70" cy="255.80" r="2.55" fill="#5fa037" />
<circle cx="223.90" cy="255.00" r="2.55" fill="#5fa037" />
<line x1="209.70" y1="240.10" x2="223.90" y2="240.10" stroke="#5fa037" stroke-width="1.1" />
<line x1="237.00" y1="269.00" x2="255.30" y2="269.00" stroke="#c81a0a" stroke-width="1.6" />
<circle cx="246.10" cy="246.40" r="2.55" fill="#c81a0a" />
<circle cx="242.50" cy="251.90" r="2.55" fill="#c81a0a" />
<circle cx="246.10" cy="255.10" r="2.55" fill="#c81a0a" />
<circle cx="242.50" cy="262.80" r="2.55" fill="#c81a0a" />
<circle cx="238.80" cy="267.40" r="2.55" fill="#c81a0a" />
<circle cx="253.40" cy="268.80" r="2.55" fill="#c81a0a" />
<circle cx="242.50" cy="271.20" r="2.55" fill="#c81a0a" />
<circle cx="253.40" cy="274.50" r="2.55" fill="#c81a0a" />
<circle cx="241.60" cy="275.60" r="2.55" fill="#c81a0a" />
<circle cx="238.80" cy="278.30" r="2.55" fill="#c81a0a" />
<circle cx="246.10" cy="277.20" r="2.55" fill="#c81a0a" />
<circle cx="249.30" cy="277.20" r="2.55" fill="#c81a0a" />
<circle cx="253.40" cy="280.10" r="2.55" fill="#c81a0a" />
<circle cx="275.20" cy="241.00" r="2.55" fill="#2d3291" />
<circle cx="275.20" cy="248.80" r="2.55" fill="#2d3291" />
<circle cx="271.70" cy="251.80" r="2.55" fill="#2d3291" />
<circle cx="278.80" cy="251.40" r="2.55" fill="#2d3291" />
<circle cx="275.80" cy="256.00" r="2.55" fill="#2d3291" />
<circle cx="278.80" cy="257.10" r="2.55" fill="#2d3291" />
<circle cx="275.20" cy="260.70" r="2.55" fill="#2d3291" />
<circle cx="268.10" cy="265.10" r="2.55" fill="#2d3291" />
<circle cx="271.70" cy="264.50" r="2.55" fill="#2d3291" />
<circle cx="278.80" cy="264.50" r="2.55" fill="#2d3291" />
<circle cx="282.40" cy="265.10" r="2.55" fill="#2d3291" />
<circle cx="275.20" cy="268.30" r="2.55" fill="#2d3291" />
<circle cx="282.40" cy="267.50" r="2.55" fill="#2d3291" />
<circle cx="271.70" cy="271.00" r="2.55" fill="#2d3291" />
<circle cx="278.80" cy="271.40" r="2.55" fill="#2d3291" />
<circle cx="277.00" cy="278.20" r="2.55" fill="#2d3291" />
<circle cx="273.50" cy="280.60" r="2.55" fill="#2d3291" />
<line x1="266.00" y1="265.50" x2="285.00" y2="265.50" stroke="#2d3291" stroke-width="1.1" />
<line x1="334.50" y1="197.30" x2="337.70" y2="197.30" stroke="#1a1a1a" stroke-width="1.1" />
<text x="330.50" y="200.26" font-size="8.6" text-anchor="end" fill="#262626" font-weight="normal" stroke="#262626" stroke-width="0.22" textLength="12.50" lengthAdjust="spacingAndGlyphs" >150</text>
<line x1="334.50" y1="227.83" x2="337.70" y2="227.83" stroke="#1a1a1a" stroke-width="1.1" />
<text x="330.50" y="230.79" font-size="8.6" text-anchor="end" fill="#262626" font-weight="normal" stroke="#262626" stroke-width="0.22" textLength="12.50" lengthAdjust="spacingAndGlyphs" >100</text>
<line x1="334.50" y1="258.37" x2="337.70" y2="258.37" stroke="#1a1a1a" stroke-width="1.1" />
<text x="330.50" y="261.33" font-size="8.6" text-anchor="end" fill="#262626" font-weight="normal" stroke="#262626" stroke-width="0.22" textLength="8.60" lengthAdjust="spacingAndGlyphs" >50</text>
<line x1="334.50" y1="288.90" x2="337.70" y2="288.90" stroke="#1a1a1a" stroke-width="1.1" />
<text x="330.50" y="291.86" font-size="8.6" text-anchor="end" fill="#262626" font-weight="normal" stroke="#262626" stroke-width="0.22" >0</text>
<line x1="356.10" y1="288.90" x2="356.10" y2="291.50" stroke="#1a1a1a" stroke-width="1.1" />
<line x1="384.70" y1="288.90" x2="384.70" y2="291.50" stroke="#1a1a1a" stroke-width="1.1" />
<line x1="411.70" y1="288.90" x2="411.70" y2="291.50" stroke="#1a1a1a" stroke-width="1.1" />
<line x1="337.70" y1="195.10" x2="337.70" y2="289.50" stroke="#1a1a1a" stroke-width="1.25" />
<line x1="337.10" y1="288.90" x2="429.70" y2="288.90" stroke="#1a1a1a" stroke-width="1.25" />
<text transform="translate(312.20,241.80) rotate(-90)" font-size="10.0" text-anchor="middle" fill="#262626" stroke="#262626" stroke-width="0.22" textLength="29.80" lengthAdjust="spacingAndGlyphs">AST (U/L)</text>
<text x="356.10" y="302.70" font-size="8.6" text-anchor="middle" fill="#5fa037" font-weight="normal" stroke="#5fa037" stroke-width="0.22" textLength="12.20" lengthAdjust="spacingAndGlyphs" >WT</text>
<text x="384.70" y="302.70" font-size="8.6" text-anchor="middle" fill="#c81a0a" font-weight="normal" stroke="#c81a0a" stroke-width="0.22" textLength="23.30" lengthAdjust="spacingAndGlyphs" >Prf1-/-</text>
<text x="411.70" y="302.70" font-size="8.6" text-anchor="middle" fill="#2d3291" font-weight="normal" stroke="#2d3291" stroke-width="0.22" textLength="20.60" lengthAdjust="spacingAndGlyphs" >Il18tg</text>
<line x1="354.50" y1="187.40" x2="413.90" y2="187.40" stroke="#333" stroke-width="1.1" />
<line x1="381.30" y1="197.60" x2="413.90" y2="197.60" stroke="#333" stroke-width="1.1" />
<polygon points="382.20,182.00 382.67,182.95 383.72,183.11 382.96,183.85 383.14,184.89 382.20,184.40 381.26,184.89 381.44,183.85 380.68,183.11 381.73,182.95" fill="#1a1a1a"/>
<polygon points="385.80,182.00 386.27,182.95 387.32,183.11 386.56,183.85 386.74,184.89 385.80,184.40 384.86,184.89 385.04,183.85 384.28,183.11 385.33,182.95" fill="#1a1a1a"/>
<polygon points="395.70,192.10 396.17,193.05 397.22,193.21 396.46,193.95 396.64,194.99 395.70,194.50 394.76,194.99 394.94,193.95 394.18,193.21 395.23,193.05" fill="#1a1a1a"/>
<polygon points="399.20,192.10 399.67,193.05 400.72,193.21 399.96,193.95 400.14,194.99 399.20,194.50 398.26,194.99 398.44,193.95 397.68,193.21 398.73,193.05" fill="#1a1a1a"/>
<circle cx="356.60" cy="217.50" r="2.55" fill="#5fa037" />
<circle cx="356.10" cy="246.70" r="2.55" fill="#5fa037" />
<circle cx="356.10" cy="260.30" r="2.55" fill="#5fa037" />
<circle cx="349.70" cy="271.40" r="2.55" fill="#5fa037" />
<circle cx="363.00" cy="268.60" r="2.55" fill="#5fa037" />
<circle cx="349.70" cy="278.90" r="2.55" fill="#5fa037" />
<circle cx="363.00" cy="276.90" r="2.55" fill="#5fa037" />
<line x1="347.20" y1="268.00" x2="365.00" y2="268.00" stroke="#5fa037" stroke-width="1.1" />
<circle cx="384.70" cy="206.70" r="2.55" fill="#c81a0a" />
<circle cx="384.70" cy="213.60" r="2.55" fill="#c81a0a" />
<circle cx="378.30" cy="221.40" r="2.55" fill="#c81a0a" />
<circle cx="384.70" cy="224.70" r="2.55" fill="#c81a0a" />
<circle cx="391.40" cy="223.30" r="2.55" fill="#c81a0a" />
<circle cx="394.40" cy="223.30" r="2.55" fill="#c81a0a" />
<circle cx="393.00" cy="228.30" r="2.55" fill="#c81a0a" />
<circle cx="384.70" cy="235.80" r="2.55" fill="#c81a0a" />
<circle cx="388.00" cy="242.80" r="2.55" fill="#c81a0a" />
<circle cx="381.10" cy="246.90" r="2.55" fill="#c81a0a" />
<line x1="375.60" y1="223.60" x2="396.40" y2="223.60" stroke="#c81a0a" stroke-width="1.1" />
<circle cx="411.70" cy="240.80" r="2.55" fill="#2d3291" />
<circle cx="404.70" cy="250.60" r="2.55" fill="#2d3291" />
<circle cx="411.70" cy="249.20" r="2.55" fill="#2d3291" />
<circle cx="418.00" cy="248.60" r="2.55" fill="#2d3291" />
<circle cx="411.70" cy="254.70" r="2.55" fill="#2d3291" />
<circle cx="418.00" cy="253.30" r="2.55" fill="#2d3291" />
<circle cx="411.70" cy="263.60" r="2.55" fill="#2d3291" />
<circle cx="411.70" cy="273.60" r="2.55" fill="#2d3291" />
<line x1="402.80" y1="252.00" x2="420.00" y2="252.00" stroke="#2d3291" stroke-width="1.1" />
<text x="6.80" y="329.80" font-size="12.5" text-anchor="start" fill="#000" font-weight="bold" >D</text>
<line x1="50.70" y1="460.23" x2="52.20" y2="460.23" stroke="#1a1a1a" stroke-width="0.8" />
<line x1="50.70" y1="455.86" x2="52.20" y2="455.86" stroke="#1a1a1a" stroke-width="0.8" />
<line x1="50.70" y1="452.76" x2="52.20" y2="452.76" stroke="#1a1a1a" stroke-width="0.8" />
<line x1="50.70" y1="450.35" x2="52.20" y2="450.35" stroke="#1a1a1a" stroke-width="0.8" />
<line x1="50.70" y1="448.39" x2="52.20" y2="448.39" stroke="#1a1a1a" stroke-width="0.8" />
<line x1="50.70" y1="446.72" x2="52.20" y2="446.72" stroke="#1a1a1a" stroke-width="0.8" />
<line x1="50.70" y1="445.29" x2="52.20" y2="445.29" stroke="#1a1a1a" stroke-width="0.8" />
<line x1="50.70" y1="444.02" x2="52.20" y2="444.02" stroke="#1a1a1a" stroke-width="0.8" />
<line x1="50.70" y1="435.41" x2="52.20" y2="435.41" stroke="#1a1a1a" stroke-width="0.8" />
<line x1="50.70" y1="431.04" x2="52.20" y2="431.04" stroke="#1a1a1a" stroke-width="0.8" />
<line x1="50.70" y1="427.94" x2="52.20" y2="427.94" stroke="#1a1a1a" stroke-width="0.8" />
<line x1="50.70" y1="425.53" x2="52.20" y2="425.53" stroke="#1a1a1a" stroke-width="0.8" />
<line x1="50.70" y1="423.57" x2="52.20" y2="423.57" stroke="#1a1a1a" stroke-width="0.8" />
<line x1="50.70" y1="421.90" x2="52.20" y2="421.90" stroke="#1a1a1a" stroke-width="0.8" />
<line x1="50.70" y1="420.47" x2="52.20" y2="420.47" stroke="#1a1a1a" stroke-width="0.8" />
<line x1="50.70" y1="419.20" x2="52.20" y2="419.20" stroke="#1a1a1a" stroke-width="0.8" />
<line x1="50.70" y1="410.59" x2="52.20" y2="410.59" stroke="#1a1a1a" stroke-width="0.8" />
<line x1="50.70" y1="406.22" x2="52.20" y2="406.22" stroke="#1a1a1a" stroke-width="0.8" />
<line x1="50.70" y1="403.12" x2="52.20" y2="403.12" stroke="#1a1a1a" stroke-width="0.8" />
<line x1="50.70" y1="400.71" x2="52.20" y2="400.71" stroke="#1a1a1a" stroke-width="0.8" />
<line x1="50.70" y1="398.75" x2="52.20" y2="398.75" stroke="#1a1a1a" stroke-width="0.8" />
<line x1="50.70" y1="397.08" x2="52.20" y2="397.08" stroke="#1a1a1a" stroke-width="0.8" />
<line x1="50.70" y1="395.65" x2="52.20" y2="395.65" stroke="#1a1a1a" stroke-width="0.8" />
<line x1="50.70" y1="394.38" x2="52.20" y2="394.38" stroke="#1a1a1a" stroke-width="0.8" />
<line x1="50.70" y1="385.77" x2="52.20" y2="385.77" stroke="#1a1a1a" stroke-width="0.8" />
<line x1="50.70" y1="381.40" x2="52.20" y2="381.40" stroke="#1a1a1a" stroke-width="0.8" />
<line x1="50.70" y1="378.30" x2="52.20" y2="378.30" stroke="#1a1a1a" stroke-width="0.8" />
<line x1="50.70" y1="375.89" x2="52.20" y2="375.89" stroke="#1a1a1a" stroke-width="0.8" />
<line x1="50.70" y1="373.93" x2="52.20" y2="373.93" stroke="#1a1a1a" stroke-width="0.8" />
<line x1="50.70" y1="372.26" x2="52.20" y2="372.26" stroke="#1a1a1a" stroke-width="0.8" />
<line x1="50.70" y1="370.83" x2="52.20" y2="370.83" stroke="#1a1a1a" stroke-width="0.8" />
<line x1="50.70" y1="369.56" x2="52.20" y2="369.56" stroke="#1a1a1a" stroke-width="0.8" />
<line x1="50.70" y1="360.95" x2="52.20" y2="360.95" stroke="#1a1a1a" stroke-width="0.8" />
<line x1="50.70" y1="356.58" x2="52.20" y2="356.58" stroke="#1a1a1a" stroke-width="0.8" />
<line x1="50.70" y1="353.48" x2="52.20" y2="353.48" stroke="#1a1a1a" stroke-width="0.8" />
<line x1="50.70" y1="351.07" x2="52.20" y2="351.07" stroke="#1a1a1a" stroke-width="0.8" />
<line x1="50.70" y1="349.11" x2="52.20" y2="349.11" stroke="#1a1a1a" stroke-width="0.8" />
<line x1="50.70" y1="347.44" x2="52.20" y2="347.44" stroke="#1a1a1a" stroke-width="0.8" />
<line x1="50.70" y1="346.01" x2="52.20" y2="346.01" stroke="#1a1a1a" stroke-width="0.8" />
<line x1="50.70" y1="344.74" x2="52.20" y2="344.74" stroke="#1a1a1a" stroke-width="0.8" />
<line x1="49.20" y1="467.70" x2="52.20" y2="467.70" stroke="#1a1a1a" stroke-width="1.1" />
<text x="42.30" y="470.30" font-size="8.8" text-anchor="end" fill="#262626" font-weight="normal" stroke="#262626" stroke-width="0.22" textLength="7.80" lengthAdjust="spacingAndGlyphs" >10</text>
<text x="42.50" y="466.60" font-size="5.8" text-anchor="start" fill="#262626" font-weight="normal" stroke="#262626" stroke-width="0.22" >1</text>
<line x1="49.20" y1="442.88" x2="52.20" y2="442.88" stroke="#1a1a1a" stroke-width="1.1" />
<text x="42.30" y="445.48" font-size="8.8" text-anchor="end" fill="#262626" font-weight="normal" stroke="#262626" stroke-width="0.22" textLength="7.80" lengthAdjust="spacingAndGlyphs" >10</text>
<text x="42.50" y="441.78" font-size="5.8" text-anchor="start" fill="#262626" font-weight="normal" stroke="#262626" stroke-width="0.22" >2</text>
<line x1="49.20" y1="418.06" x2="52.20" y2="418.06" stroke="#1a1a1a" stroke-width="1.1" />
<text x="42.30" y="420.66" font-size="8.8" text-anchor="end" fill="#262626" font-weight="normal" stroke="#262626" stroke-width="0.22" textLength="7.80" lengthAdjust="spacingAndGlyphs" >10</text>
<text x="42.50" y="416.96" font-size="5.8" text-anchor="start" fill="#262626" font-weight="normal" stroke="#262626" stroke-width="0.22" >3</text>
<line x1="49.20" y1="393.24" x2="52.20" y2="393.24" stroke="#1a1a1a" stroke-width="1.1" />
<text x="42.30" y="395.84" font-size="8.8" text-anchor="end" fill="#262626" font-weight="normal" stroke="#262626" stroke-width="0.22" textLength="7.80" lengthAdjust="spacingAndGlyphs" >10</text>
<text x="42.50" y="392.14" font-size="5.8" text-anchor="start" fill="#262626" font-weight="normal" stroke="#262626" stroke-width="0.22" >4</text>
<line x1="49.20" y1="368.42" x2="52.20" y2="368.42" stroke="#1a1a1a" stroke-width="1.1" />
<text x="42.30" y="371.02" font-size="8.8" text-anchor="end" fill="#262626" font-weight="normal" stroke="#262626" stroke-width="0.22" textLength="7.80" lengthAdjust="spacingAndGlyphs" >10</text>
<text x="42.50" y="367.32" font-size="5.8" text-anchor="start" fill="#262626" font-weight="normal" stroke="#262626" stroke-width="0.22" >5</text>
<line x1="49.20" y1="343.60" x2="52.20" y2="343.60" stroke="#1a1a1a" stroke-width="1.1" />
<text x="42.30" y="346.20" font-size="8.8" text-anchor="end" fill="#262626" font-weight="normal" stroke="#262626" stroke-width="0.22" textLength="7.80" lengthAdjust="spacingAndGlyphs" >10</text>
<text x="42.50" y="342.50" font-size="5.8" text-anchor="start" fill="#262626" font-weight="normal" stroke="#262626" stroke-width="0.22" >6</text>
<line x1="59.60" y1="467.70" x2="59.60" y2="469.10" stroke="#1a1a1a" stroke-width="0.9" />
<line x1="66.90" y1="467.70" x2="66.90" y2="469.10" stroke="#1a1a1a" stroke-width="0.9" />
<line x1="74.20" y1="467.70" x2="74.20" y2="469.10" stroke="#1a1a1a" stroke-width="0.9" />
<line x1="81.50" y1="467.70" x2="81.50" y2="469.10" stroke="#1a1a1a" stroke-width="0.9" />
<line x1="96.10" y1="467.70" x2="96.10" y2="469.10" stroke="#1a1a1a" stroke-width="0.9" />
<line x1="103.40" y1="467.70" x2="103.40" y2="469.10" stroke="#1a1a1a" stroke-width="0.9" />
<line x1="110.70" y1="467.70" x2="110.70" y2="469.10" stroke="#1a1a1a" stroke-width="0.9" />
<line x1="118.00" y1="467.70" x2="118.00" y2="469.10" stroke="#1a1a1a" stroke-width="0.9" />
<line x1="132.60" y1="467.70" x2="132.60" y2="469.10" stroke="#1a1a1a" stroke-width="0.9" />
<line x1="139.90" y1="467.70" x2="139.90" y2="469.10" stroke="#1a1a1a" stroke-width="0.9" />
<line x1="147.20" y1="467.70" x2="147.20" y2="469.10" stroke="#1a1a1a" stroke-width="0.9" />
<line x1="154.50" y1="467.70" x2="154.50" y2="469.10" stroke="#1a1a1a" stroke-width="0.9" />
<line x1="52.30" y1="467.70" x2="52.30" y2="470.70" stroke="#1a1a1a" stroke-width="1.1" />
<line x1="88.80" y1="467.70" x2="88.80" y2="470.70" stroke="#1a1a1a" stroke-width="1.1" />
<line x1="125.30" y1="467.70" x2="125.30" y2="470.70" stroke="#1a1a1a" stroke-width="1.1" />
<line x1="161.80" y1="467.70" x2="161.80" y2="470.70" stroke="#1a1a1a" stroke-width="1.1" />
<line x1="181.10" y1="467.70" x2="181.10" y2="470.70" stroke="#1a1a1a" stroke-width="1.1" />
<line x1="52.20" y1="341.10" x2="52.20" y2="468.30" stroke="#1a1a1a" stroke-width="1.25" />
<line x1="51.60" y1="467.70" x2="162.10" y2="467.70" stroke="#1a1a1a" stroke-width="1.25" />
<line x1="164.50" y1="467.70" x2="192.00" y2="467.70" stroke="#1a1a1a" stroke-width="1.25" />
<line x1="161.20" y1="468.60" x2="163.00" y2="466.50" stroke="#1a1a1a" stroke-width="0.9" />
<line x1="163.80" y1="468.60" x2="165.60" y2="466.50" stroke="#1a1a1a" stroke-width="0.9" />
<text x="52.50" y="480.96" font-size="8.6" text-anchor="middle" fill="#262626" font-weight="normal" stroke="#262626" stroke-width="0.22" >0</text>
<text x="88.20" y="480.96" font-size="8.6" text-anchor="middle" fill="#262626" font-weight="normal" stroke="#262626" stroke-width="0.22" >5</text>
<text x="124.90" y="480.96" font-size="8.6" text-anchor="middle" fill="#262626" font-weight="normal" stroke="#262626" stroke-width="0.22" textLength="8.60" lengthAdjust="spacingAndGlyphs" >10</text>
<text x="162.10" y="480.96" font-size="8.6" text-anchor="middle" fill="#262626" font-weight="normal" stroke="#262626" stroke-width="0.22" textLength="8.60" lengthAdjust="spacingAndGlyphs" >15</text>
<text x="180.60" y="480.96" font-size="8.6" text-anchor="middle" fill="#262626" font-weight="normal" stroke="#262626" stroke-width="0.22" textLength="8.60" lengthAdjust="spacingAndGlyphs" >33</text>
<text transform="translate(29.20,402.70) rotate(-90)" font-size="10.0" text-anchor="middle" fill="#262626" stroke="#262626" stroke-width="0.22" textLength="42.50" lengthAdjust="spacingAndGlyphs">IL-18 (pg/mL)</text>
<text x="91.90" y="495.20" font-size="10.0" text-anchor="start" fill="#262626" font-weight="normal" stroke="#262626" stroke-width="0.22" textLength="60.30" lengthAdjust="spacingAndGlyphs" >Day post infection</text>
<polyline points="52.30,429.20 66.90,427.40 74.20,433.10 81.50,432.60 88.80,436.60 96.10,416.90 103.40,422.30 110.70,412.00 118.00,406.50 132.60,414.50 139.90,408.80 161.80,423.00" fill="none" stroke="#d0302a" stroke-width="1.1" stroke-linejoin="miter" />
<circle cx="52.30" cy="429.20" r="1.6" fill="#c81a0a" />
<line x1="66.90" y1="423.80" x2="66.90" y2="432.30" stroke="#d0302a" stroke-width="1.0" />
<line x1="65.50" y1="423.80" x2="68.30" y2="423.80" stroke="#d0302a" stroke-width="1.0" />
<line x1="65.50" y1="432.30" x2="68.30" y2="432.30" stroke="#d0302a" stroke-width="1.0" />
<circle cx="66.90" cy="427.40" r="1.6" fill="#c81a0a" />
<circle cx="74.20" cy="433.10" r="1.6" fill="#c81a0a" />
<line x1="81.50" y1="430.10" x2="81.50" y2="435.10" stroke="#d0302a" stroke-width="1.0" />
<line x1="80.10" y1="430.10" x2="82.90" y2="430.10" stroke="#d0302a" stroke-width="1.0" />
<line x1="80.10" y1="435.10" x2="82.90" y2="435.10" stroke="#d0302a" stroke-width="1.0" />
<circle cx="81.50" cy="432.60" r="1.6" fill="#c81a0a" />
<circle cx="88.80" cy="436.60" r="1.6" fill="#c81a0a" />
<line x1="96.10" y1="411.50" x2="96.10" y2="420.90" stroke="#d0302a" stroke-width="1.0" />
<line x1="94.70" y1="411.50" x2="97.50" y2="411.50" stroke="#d0302a" stroke-width="1.0" />
<line x1="94.70" y1="420.90" x2="97.50" y2="420.90" stroke="#d0302a" stroke-width="1.0" />
<circle cx="96.10" cy="416.90" r="1.6" fill="#c81a0a" />
<circle cx="103.40" cy="422.30" r="1.6" fill="#c81a0a" />
<circle cx="110.70" cy="412.00" r="1.6" fill="#c81a0a" />
<circle cx="118.00" cy="406.50" r="1.6" fill="#c81a0a" />
<line x1="132.60" y1="413.00" x2="132.60" y2="416.00" stroke="#d0302a" stroke-width="1.0" />
<line x1="131.20" y1="413.00" x2="134.00" y2="413.00" stroke="#d0302a" stroke-width="1.0" />
<line x1="131.20" y1="416.00" x2="134.00" y2="416.00" stroke="#d0302a" stroke-width="1.0" />
<circle cx="132.60" cy="414.50" r="1.6" fill="#c81a0a" />
<line x1="139.90" y1="407.30" x2="139.90" y2="410.30" stroke="#d0302a" stroke-width="1.0" />
<line x1="138.50" y1="407.30" x2="141.30" y2="407.30" stroke="#d0302a" stroke-width="1.0" />
<line x1="138.50" y1="410.30" x2="141.30" y2="410.30" stroke="#d0302a" stroke-width="1.0" />
<circle cx="139.90" cy="408.80" r="1.6" fill="#c81a0a" />
<circle cx="161.80" cy="423.00" r="1.6" fill="#c81a0a" />
<polyline points="52.30,430.50 66.90,435.70 74.20,436.20 81.50,437.20 88.80,433.80 96.10,424.60 103.40,436.60 110.70,431.10 118.00,431.50 154.50,435.90 161.80,445.40" fill="none" stroke="#6aaa45" stroke-width="1.1" stroke-linejoin="miter" />
<polyline points="165.00,443.78 181.10,435.60" fill="none" stroke="#6aaa45" stroke-width="1.1" stroke-linejoin="miter" />
<circle cx="52.30" cy="430.50" r="1.6" fill="#5fa037" />
<line x1="66.90" y1="432.70" x2="66.90" y2="438.70" stroke="#6aaa45" stroke-width="1.0" />
<line x1="65.50" y1="432.70" x2="68.30" y2="432.70" stroke="#6aaa45" stroke-width="1.0" />
<line x1="65.50" y1="438.70" x2="68.30" y2="438.70" stroke="#6aaa45" stroke-width="1.0" />
<circle cx="66.90" cy="435.70" r="1.6" fill="#5fa037" />
<circle cx="74.20" cy="436.20" r="1.6" fill="#5fa037" />
<line x1="81.50" y1="434.70" x2="81.50" y2="439.70" stroke="#6aaa45" stroke-width="1.0" />
<line x1="80.10" y1="434.70" x2="82.90" y2="434.70" stroke="#6aaa45" stroke-width="1.0" />
<line x1="80.10" y1="439.70" x2="82.90" y2="439.70" stroke="#6aaa45" stroke-width="1.0" />
<circle cx="81.50" cy="437.20" r="1.6" fill="#5fa037" />
<circle cx="88.80" cy="433.80" r="1.6" fill="#5fa037" />
<line x1="96.10" y1="420.30" x2="96.10" y2="429.50" stroke="#6aaa45" stroke-width="1.0" />
<line x1="94.70" y1="420.30" x2="97.50" y2="420.30" stroke="#6aaa45" stroke-width="1.0" />
<line x1="94.70" y1="429.50" x2="97.50" y2="429.50" stroke="#6aaa45" stroke-width="1.0" />
<circle cx="96.10" cy="424.60" r="1.6" fill="#5fa037" />
<line x1="103.40" y1="434.60" x2="103.40" y2="438.60" stroke="#6aaa45" stroke-width="1.0" />
<line x1="102.00" y1="434.60" x2="104.80" y2="434.60" stroke="#6aaa45" stroke-width="1.0" />
<line x1="102.00" y1="438.60" x2="104.80" y2="438.60" stroke="#6aaa45" stroke-width="1.0" />
<circle cx="103.40" cy="436.60" r="1.6" fill="#5fa037" />
<circle cx="110.70" cy="431.10" r="1.6" fill="#5fa037" />
<line x1="118.00" y1="428.50" x2="118.00" y2="434.50" stroke="#6aaa45" stroke-width="1.0" />
<line x1="116.60" y1="428.50" x2="119.40" y2="428.50" stroke="#6aaa45" stroke-width="1.0" />
<line x1="116.60" y1="434.50" x2="119.40" y2="434.50" stroke="#6aaa45" stroke-width="1.0" />
<circle cx="118.00" cy="431.50" r="1.6" fill="#5fa037" />
<line x1="154.50" y1="431.90" x2="154.50" y2="439.90" stroke="#6aaa45" stroke-width="1.0" />
<line x1="153.10" y1="431.90" x2="155.90" y2="431.90" stroke="#6aaa45" stroke-width="1.0" />
<line x1="153.10" y1="439.90" x2="155.90" y2="439.90" stroke="#6aaa45" stroke-width="1.0" />
<circle cx="154.50" cy="435.90" r="1.6" fill="#5fa037" />
<circle cx="161.80" cy="445.40" r="1.6" fill="#5fa037" />
<line x1="181.10" y1="433.10" x2="181.10" y2="438.10" stroke="#6aaa45" stroke-width="1.0" />
<line x1="179.70" y1="433.10" x2="182.50" y2="433.10" stroke="#6aaa45" stroke-width="1.0" />
<line x1="179.70" y1="438.10" x2="182.50" y2="438.10" stroke="#6aaa45" stroke-width="1.0" />
<circle cx="181.10" cy="435.60" r="1.6" fill="#5fa037" />
<polyline points="52.30,396.90 66.90,396.20 74.20,399.50 81.50,394.60 88.80,398.00 96.10,397.40 103.40,379.20 110.70,373.80 118.00,363.10 154.50,384.00 161.80,399.50" fill="none" stroke="#404aa0" stroke-width="1.1" stroke-linejoin="miter" />
<polyline points="165.00,400.15 181.10,403.40" fill="none" stroke="#404aa0" stroke-width="1.1" stroke-linejoin="miter" />
<circle cx="52.30" cy="396.90" r="1.6" fill="#2d3291" />
<line x1="66.90" y1="394.20" x2="66.90" y2="398.20" stroke="#404aa0" stroke-width="1.0" />
<line x1="65.50" y1="394.20" x2="68.30" y2="394.20" stroke="#404aa0" stroke-width="1.0" />
<line x1="65.50" y1="398.20" x2="68.30" y2="398.20" stroke="#404aa0" stroke-width="1.0" />
<circle cx="66.90" cy="396.20" r="1.6" fill="#2d3291" />
<line x1="74.20" y1="396.50" x2="74.20" y2="402.50" stroke="#404aa0" stroke-width="1.0" />
<line x1="72.80" y1="396.50" x2="75.60" y2="396.50" stroke="#404aa0" stroke-width="1.0" />
<line x1="72.80" y1="402.50" x2="75.60" y2="402.50" stroke="#404aa0" stroke-width="1.0" />
<circle cx="74.20" cy="399.50" r="1.6" fill="#2d3291" />
<line x1="81.50" y1="390.60" x2="81.50" y2="398.60" stroke="#404aa0" stroke-width="1.0" />
<line x1="80.10" y1="390.60" x2="82.90" y2="390.60" stroke="#404aa0" stroke-width="1.0" />
<line x1="80.10" y1="398.60" x2="82.90" y2="398.60" stroke="#404aa0" stroke-width="1.0" />
<circle cx="81.50" cy="394.60" r="1.6" fill="#2d3291" />
<line x1="88.80" y1="396.00" x2="88.80" y2="400.00" stroke="#404aa0" stroke-width="1.0" />
<line x1="87.40" y1="396.00" x2="90.20" y2="396.00" stroke="#404aa0" stroke-width="1.0" />
<line x1="87.40" y1="400.00" x2="90.20" y2="400.00" stroke="#404aa0" stroke-width="1.0" />
<circle cx="88.80" cy="398.00" r="1.6" fill="#2d3291" />
<line x1="96.10" y1="393.00" x2="96.10" y2="404.60" stroke="#404aa0" stroke-width="1.0" />
<line x1="94.70" y1="393.00" x2="97.50" y2="393.00" stroke="#404aa0" stroke-width="1.0" />
<line x1="94.70" y1="404.60" x2="97.50" y2="404.60" stroke="#404aa0" stroke-width="1.0" />
<circle cx="96.10" cy="397.40" r="1.6" fill="#2d3291" />
<line x1="103.40" y1="376.70" x2="103.40" y2="381.70" stroke="#404aa0" stroke-width="1.0" />
<line x1="102.00" y1="376.70" x2="104.80" y2="376.70" stroke="#404aa0" stroke-width="1.0" />
<line x1="102.00" y1="381.70" x2="104.80" y2="381.70" stroke="#404aa0" stroke-width="1.0" />
<circle cx="103.40" cy="379.20" r="1.6" fill="#2d3291" />
<line x1="110.70" y1="371.30" x2="110.70" y2="376.30" stroke="#404aa0" stroke-width="1.0" />
<line x1="109.30" y1="371.30" x2="112.10" y2="371.30" stroke="#404aa0" stroke-width="1.0" />
<line x1="109.30" y1="376.30" x2="112.10" y2="376.30" stroke="#404aa0" stroke-width="1.0" />
<circle cx="110.70" cy="373.80" r="1.6" fill="#2d3291" />
<line x1="118.00" y1="359.50" x2="118.00" y2="367.10" stroke="#404aa0" stroke-width="1.0" />
<line x1="116.60" y1="359.50" x2="119.40" y2="359.50" stroke="#404aa0" stroke-width="1.0" />
<line x1="116.60" y1="367.10" x2="119.40" y2="367.10" stroke="#404aa0" stroke-width="1.0" />
<circle cx="118.00" cy="363.10" r="1.6" fill="#2d3291" />
<line x1="154.50" y1="382.00" x2="154.50" y2="386.00" stroke="#404aa0" stroke-width="1.0" />
<line x1="153.10" y1="382.00" x2="155.90" y2="382.00" stroke="#404aa0" stroke-width="1.0" />
<line x1="153.10" y1="386.00" x2="155.90" y2="386.00" stroke="#404aa0" stroke-width="1.0" />
<circle cx="154.50" cy="384.00" r="1.6" fill="#2d3291" />
<line x1="161.80" y1="397.00" x2="161.80" y2="402.00" stroke="#404aa0" stroke-width="1.0" />
<line x1="160.40" y1="397.00" x2="163.20" y2="397.00" stroke="#404aa0" stroke-width="1.0" />
<line x1="160.40" y1="402.00" x2="163.20" y2="402.00" stroke="#404aa0" stroke-width="1.0" />
<circle cx="161.80" cy="399.50" r="1.6" fill="#2d3291" />
<line x1="181.10" y1="400.40" x2="181.10" y2="406.40" stroke="#404aa0" stroke-width="1.0" />
<line x1="179.70" y1="400.40" x2="182.50" y2="400.40" stroke="#404aa0" stroke-width="1.0" />
<line x1="179.70" y1="406.40" x2="182.50" y2="406.40" stroke="#404aa0" stroke-width="1.0" />
<circle cx="181.10" cy="403.40" r="1.6" fill="#2d3291" />
<line x1="231.70" y1="458.45" x2="233.20" y2="458.45" stroke="#1a1a1a" stroke-width="0.8" />
<line x1="231.70" y1="452.98" x2="233.20" y2="452.98" stroke="#1a1a1a" stroke-width="0.8" />
<line x1="231.70" y1="449.09" x2="233.20" y2="449.09" stroke="#1a1a1a" stroke-width="0.8" />
<line x1="231.70" y1="446.08" x2="233.20" y2="446.08" stroke="#1a1a1a" stroke-width="0.8" />
<line x1="231.70" y1="443.62" x2="233.20" y2="443.62" stroke="#1a1a1a" stroke-width="0.8" />
<line x1="231.70" y1="441.54" x2="233.20" y2="441.54" stroke="#1a1a1a" stroke-width="0.8" />
<line x1="231.70" y1="439.74" x2="233.20" y2="439.74" stroke="#1a1a1a" stroke-width="0.8" />
<line x1="231.70" y1="438.15" x2="233.20" y2="438.15" stroke="#1a1a1a" stroke-width="0.8" />
<line x1="231.70" y1="427.38" x2="233.20" y2="427.38" stroke="#1a1a1a" stroke-width="0.8" />
<line x1="231.70" y1="421.91" x2="233.20" y2="421.91" stroke="#1a1a1a" stroke-width="0.8" />
<line x1="231.70" y1="418.02" x2="233.20" y2="418.02" stroke="#1a1a1a" stroke-width="0.8" />
<line x1="231.70" y1="415.01" x2="233.20" y2="415.01" stroke="#1a1a1a" stroke-width="0.8" />
<line x1="231.70" y1="412.55" x2="233.20" y2="412.55" stroke="#1a1a1a" stroke-width="0.8" />
<line x1="231.70" y1="410.47" x2="233.20" y2="410.47" stroke="#1a1a1a" stroke-width="0.8" />
<line x1="231.70" y1="408.67" x2="233.20" y2="408.67" stroke="#1a1a1a" stroke-width="0.8" />
<line x1="231.70" y1="407.08" x2="233.20" y2="407.08" stroke="#1a1a1a" stroke-width="0.8" />
<line x1="231.70" y1="396.31" x2="233.20" y2="396.31" stroke="#1a1a1a" stroke-width="0.8" />
<line x1="231.70" y1="390.84" x2="233.20" y2="390.84" stroke="#1a1a1a" stroke-width="0.8" />
<line x1="231.70" y1="386.95" x2="233.20" y2="386.95" stroke="#1a1a1a" stroke-width="0.8" />
<line x1="231.70" y1="383.94" x2="233.20" y2="383.94" stroke="#1a1a1a" stroke-width="0.8" />
<line x1="231.70" y1="381.48" x2="233.20" y2="381.48" stroke="#1a1a1a" stroke-width="0.8" />
<line x1="231.70" y1="379.40" x2="233.20" y2="379.40" stroke="#1a1a1a" stroke-width="0.8" />
<line x1="231.70" y1="377.60" x2="233.20" y2="377.60" stroke="#1a1a1a" stroke-width="0.8" />
<line x1="231.70" y1="376.01" x2="233.20" y2="376.01" stroke="#1a1a1a" stroke-width="0.8" />
<line x1="231.70" y1="365.24" x2="233.20" y2="365.24" stroke="#1a1a1a" stroke-width="0.8" />
<line x1="231.70" y1="359.77" x2="233.20" y2="359.77" stroke="#1a1a1a" stroke-width="0.8" />
<line x1="231.70" y1="355.88" x2="233.20" y2="355.88" stroke="#1a1a1a" stroke-width="0.8" />
<line x1="231.70" y1="352.87" x2="233.20" y2="352.87" stroke="#1a1a1a" stroke-width="0.8" />
<line x1="231.70" y1="350.41" x2="233.20" y2="350.41" stroke="#1a1a1a" stroke-width="0.8" />
<line x1="231.70" y1="348.33" x2="233.20" y2="348.33" stroke="#1a1a1a" stroke-width="0.8" />
<line x1="231.70" y1="346.53" x2="233.20" y2="346.53" stroke="#1a1a1a" stroke-width="0.8" />
<line x1="231.70" y1="344.94" x2="233.20" y2="344.94" stroke="#1a1a1a" stroke-width="0.8" />
<line x1="230.20" y1="467.80" x2="233.20" y2="467.80" stroke="#1a1a1a" stroke-width="1.1" />
<text x="224.80" y="470.40" font-size="8.8" text-anchor="end" fill="#262626" font-weight="normal" stroke="#262626" stroke-width="0.22" textLength="7.80" lengthAdjust="spacingAndGlyphs" >10</text>
<text x="225.00" y="466.70" font-size="5.8" text-anchor="start" fill="#262626" font-weight="normal" stroke="#262626" stroke-width="0.22" >0</text>
<line x1="230.20" y1="436.73" x2="233.20" y2="436.73" stroke="#1a1a1a" stroke-width="1.1" />
<text x="224.80" y="439.33" font-size="8.8" text-anchor="end" fill="#262626" font-weight="normal" stroke="#262626" stroke-width="0.22" textLength="7.80" lengthAdjust="spacingAndGlyphs" >10</text>
<text x="225.00" y="435.63" font-size="5.8" text-anchor="start" fill="#262626" font-weight="normal" stroke="#262626" stroke-width="0.22" >1</text>
<line x1="230.20" y1="405.66" x2="233.20" y2="405.66" stroke="#1a1a1a" stroke-width="1.1" />
<text x="224.80" y="408.26" font-size="8.8" text-anchor="end" fill="#262626" font-weight="normal" stroke="#262626" stroke-width="0.22" textLength="7.80" lengthAdjust="spacingAndGlyphs" >10</text>
<text x="225.00" y="404.56" font-size="5.8" text-anchor="start" fill="#262626" font-weight="normal" stroke="#262626" stroke-width="0.22" >2</text>
<line x1="230.20" y1="374.59" x2="233.20" y2="374.59" stroke="#1a1a1a" stroke-width="1.1" />
<text x="224.80" y="377.19" font-size="8.8" text-anchor="end" fill="#262626" font-weight="normal" stroke="#262626" stroke-width="0.22" textLength="7.80" lengthAdjust="spacingAndGlyphs" >10</text>
<text x="225.00" y="373.49" font-size="5.8" text-anchor="start" fill="#262626" font-weight="normal" stroke="#262626" stroke-width="0.22" >3</text>
<line x1="230.20" y1="343.52" x2="233.20" y2="343.52" stroke="#1a1a1a" stroke-width="1.1" />
<text x="224.80" y="346.12" font-size="8.8" text-anchor="end" fill="#262626" font-weight="normal" stroke="#262626" stroke-width="0.22" textLength="7.80" lengthAdjust="spacingAndGlyphs" >10</text>
<text x="225.00" y="342.42" font-size="5.8" text-anchor="start" fill="#262626" font-weight="normal" stroke="#262626" stroke-width="0.22" >4</text>
<line x1="240.70" y1="467.80" x2="240.70" y2="469.20" stroke="#1a1a1a" stroke-width="0.9" />
<line x1="248.00" y1="467.80" x2="248.00" y2="469.20" stroke="#1a1a1a" stroke-width="0.9" />
<line x1="255.30" y1="467.80" x2="255.30" y2="469.20" stroke="#1a1a1a" stroke-width="0.9" />
<line x1="262.60" y1="467.80" x2="262.60" y2="469.20" stroke="#1a1a1a" stroke-width="0.9" />
<line x1="277.20" y1="467.80" x2="277.20" y2="469.20" stroke="#1a1a1a" stroke-width="0.9" />
<line x1="284.50" y1="467.80" x2="284.50" y2="469.20" stroke="#1a1a1a" stroke-width="0.9" />
<line x1="291.80" y1="467.80" x2="291.80" y2="469.20" stroke="#1a1a1a" stroke-width="0.9" />
<line x1="299.10" y1="467.80" x2="299.10" y2="469.20" stroke="#1a1a1a" stroke-width="0.9" />
<line x1="313.70" y1="467.80" x2="313.70" y2="469.20" stroke="#1a1a1a" stroke-width="0.9" />
<line x1="321.00" y1="467.80" x2="321.00" y2="469.20" stroke="#1a1a1a" stroke-width="0.9" />
<line x1="328.30" y1="467.80" x2="328.30" y2="469.20" stroke="#1a1a1a" stroke-width="0.9" />
<line x1="335.60" y1="467.80" x2="335.60" y2="469.20" stroke="#1a1a1a" stroke-width="0.9" />
<line x1="233.40" y1="467.80" x2="233.40" y2="470.80" stroke="#1a1a1a" stroke-width="1.1" />
<line x1="269.90" y1="467.80" x2="269.90" y2="470.80" stroke="#1a1a1a" stroke-width="1.1" />
<line x1="306.40" y1="467.80" x2="306.40" y2="470.80" stroke="#1a1a1a" stroke-width="1.1" />
<line x1="342.90" y1="467.80" x2="342.90" y2="470.80" stroke="#1a1a1a" stroke-width="1.1" />
<line x1="362.20" y1="467.80" x2="362.20" y2="470.80" stroke="#1a1a1a" stroke-width="1.1" />
<line x1="233.20" y1="342.50" x2="233.20" y2="468.40" stroke="#1a1a1a" stroke-width="1.25" />
<line x1="232.60" y1="467.80" x2="342.90" y2="467.80" stroke="#1a1a1a" stroke-width="1.25" />
<line x1="345.50" y1="467.80" x2="373.10" y2="467.80" stroke="#1a1a1a" stroke-width="1.25" />
<line x1="342.00" y1="468.70" x2="343.80" y2="466.60" stroke="#1a1a1a" stroke-width="0.9" />
<line x1="344.60" y1="468.70" x2="346.40" y2="466.60" stroke="#1a1a1a" stroke-width="0.9" />
<text x="233.30" y="481.46" font-size="8.6" text-anchor="middle" fill="#262626" font-weight="normal" stroke="#262626" stroke-width="0.22" >0</text>
<text x="269.70" y="481.46" font-size="8.6" text-anchor="middle" fill="#262626" font-weight="normal" stroke="#262626" stroke-width="0.22" >5</text>
<text x="306.40" y="481.46" font-size="8.6" text-anchor="middle" fill="#262626" font-weight="normal" stroke="#262626" stroke-width="0.22" textLength="8.60" lengthAdjust="spacingAndGlyphs" >10</text>
<text x="343.60" y="481.46" font-size="8.6" text-anchor="middle" fill="#262626" font-weight="normal" stroke="#262626" stroke-width="0.22" textLength="8.60" lengthAdjust="spacingAndGlyphs" >15</text>
<text x="362.10" y="481.46" font-size="8.6" text-anchor="middle" fill="#262626" font-weight="normal" stroke="#262626" stroke-width="0.22" textLength="8.60" lengthAdjust="spacingAndGlyphs" >33</text>
<text transform="translate(209.20,403.60) rotate(-90)" font-size="10.0" text-anchor="middle" fill="#262626" stroke="#262626" stroke-width="0.22" textLength="42.90" lengthAdjust="spacingAndGlyphs">IFNg (pg/mL)</text>
<text x="273.30" y="495.20" font-size="10.0" text-anchor="start" fill="#262626" font-weight="normal" stroke="#262626" stroke-width="0.22" textLength="60.00" lengthAdjust="spacingAndGlyphs" >Day post infection</text>
<polyline points="233.40,443.20 248.00,423.30 255.30,418.30 262.60,393.00 269.90,371.50 277.20,354.00 284.50,357.20 291.80,347.70 299.10,346.40 321.00,370.60 342.90,408.60" fill="none" stroke="#d0302a" stroke-width="1.1" stroke-linejoin="miter" />
<circle cx="233.40" cy="443.20" r="1.6" fill="#c81a0a" />
<line x1="248.00" y1="421.30" x2="248.00" y2="425.30" stroke="#d0302a" stroke-width="1.0" />
<line x1="246.60" y1="421.30" x2="249.40" y2="421.30" stroke="#d0302a" stroke-width="1.0" />
<line x1="246.60" y1="425.30" x2="249.40" y2="425.30" stroke="#d0302a" stroke-width="1.0" />
<circle cx="248.00" cy="423.30" r="1.6" fill="#c81a0a" />
<circle cx="255.30" cy="418.30" r="1.6" fill="#c81a0a" />
<circle cx="262.60" cy="393.00" r="1.6" fill="#c81a0a" />
<line x1="269.90" y1="368.50" x2="269.90" y2="374.50" stroke="#d0302a" stroke-width="1.0" />
<line x1="268.50" y1="368.50" x2="271.30" y2="368.50" stroke="#d0302a" stroke-width="1.0" />
<line x1="268.50" y1="374.50" x2="271.30" y2="374.50" stroke="#d0302a" stroke-width="1.0" />
<circle cx="269.90" cy="371.50" r="1.6" fill="#c81a0a" />
<line x1="277.20" y1="351.00" x2="277.20" y2="357.00" stroke="#d0302a" stroke-width="1.0" />
<line x1="275.80" y1="351.00" x2="278.60" y2="351.00" stroke="#d0302a" stroke-width="1.0" />
<line x1="275.80" y1="357.00" x2="278.60" y2="357.00" stroke="#d0302a" stroke-width="1.0" />
<circle cx="277.20" cy="354.00" r="1.6" fill="#c81a0a" />
<circle cx="284.50" cy="357.20" r="1.6" fill="#c81a0a" />
<circle cx="291.80" cy="347.70" r="1.6" fill="#c81a0a" />
<line x1="299.10" y1="344.40" x2="299.10" y2="348.40" stroke="#d0302a" stroke-width="1.0" />
<line x1="297.70" y1="344.40" x2="300.50" y2="344.40" stroke="#d0302a" stroke-width="1.0" />
<line x1="297.70" y1="348.40" x2="300.50" y2="348.40" stroke="#d0302a" stroke-width="1.0" />
<circle cx="299.10" cy="346.40" r="1.6" fill="#c81a0a" />
<line x1="321.00" y1="368.10" x2="321.00" y2="373.10" stroke="#d0302a" stroke-width="1.0" />
<line x1="319.60" y1="368.10" x2="322.40" y2="368.10" stroke="#d0302a" stroke-width="1.0" />
<line x1="319.60" y1="373.10" x2="322.40" y2="373.10" stroke="#d0302a" stroke-width="1.0" />
<circle cx="321.00" cy="370.60" r="1.6" fill="#c81a0a" />
<circle cx="342.90" cy="408.60" r="1.6" fill="#c81a0a" />
<polyline points="233.40,443.20 248.00,394.00 255.30,386.60 262.60,392.50 269.90,389.80 277.20,371.20 284.50,424.90 291.80,415.40 299.10,443.20 335.60,463.60 342.90,443.30" fill="none" stroke="#6aaa45" stroke-width="1.1" stroke-linejoin="miter" />
<polyline points="346.00,447.24 362.20,467.80" fill="none" stroke="#6aaa45" stroke-width="1.1" stroke-linejoin="miter" />
<circle cx="233.40" cy="443.20" r="1.6" fill="#5fa037" />
<line x1="248.00" y1="392.00" x2="248.00" y2="396.00" stroke="#6aaa45" stroke-width="1.0" />
<line x1="246.60" y1="392.00" x2="249.40" y2="392.00" stroke="#6aaa45" stroke-width="1.0" />
<line x1="246.60" y1="396.00" x2="249.40" y2="396.00" stroke="#6aaa45" stroke-width="1.0" />
<circle cx="248.00" cy="394.00" r="1.6" fill="#5fa037" />
<line x1="255.30" y1="382.60" x2="255.30" y2="390.60" stroke="#6aaa45" stroke-width="1.0" />
<line x1="253.90" y1="382.60" x2="256.70" y2="382.60" stroke="#6aaa45" stroke-width="1.0" />
<line x1="253.90" y1="390.60" x2="256.70" y2="390.60" stroke="#6aaa45" stroke-width="1.0" />
<circle cx="255.30" cy="386.60" r="1.6" fill="#5fa037" />
<line x1="262.60" y1="385.80" x2="262.60" y2="405.60" stroke="#6aaa45" stroke-width="1.0" />
<line x1="261.20" y1="385.80" x2="264.00" y2="385.80" stroke="#6aaa45" stroke-width="1.0" />
<line x1="261.20" y1="405.60" x2="264.00" y2="405.60" stroke="#6aaa45" stroke-width="1.0" />
<circle cx="262.60" cy="392.50" r="1.6" fill="#5fa037" />
<line x1="269.90" y1="387.80" x2="269.90" y2="391.80" stroke="#6aaa45" stroke-width="1.0" />
<line x1="268.50" y1="387.80" x2="271.30" y2="387.80" stroke="#6aaa45" stroke-width="1.0" />
<line x1="268.50" y1="391.80" x2="271.30" y2="391.80" stroke="#6aaa45" stroke-width="1.0" />
<circle cx="269.90" cy="389.80" r="1.6" fill="#5fa037" />
<line x1="277.20" y1="366.20" x2="277.20" y2="376.20" stroke="#6aaa45" stroke-width="1.0" />
<line x1="275.80" y1="366.20" x2="278.60" y2="366.20" stroke="#6aaa45" stroke-width="1.0" />
<line x1="275.80" y1="376.20" x2="278.60" y2="376.20" stroke="#6aaa45" stroke-width="1.0" />
<circle cx="277.20" cy="371.20" r="1.6" fill="#5fa037" />
<line x1="284.50" y1="421.90" x2="284.50" y2="427.90" stroke="#6aaa45" stroke-width="1.0" />
<line x1="283.10" y1="421.90" x2="285.90" y2="421.90" stroke="#6aaa45" stroke-width="1.0" />
<line x1="283.10" y1="427.90" x2="285.90" y2="427.90" stroke="#6aaa45" stroke-width="1.0" />
<circle cx="284.50" cy="424.90" r="1.6" fill="#5fa037" />
<line x1="291.80" y1="411.40" x2="291.80" y2="421.00" stroke="#6aaa45" stroke-width="1.0" />
<line x1="290.40" y1="411.40" x2="293.20" y2="411.40" stroke="#6aaa45" stroke-width="1.0" />
<line x1="290.40" y1="421.00" x2="293.20" y2="421.00" stroke="#6aaa45" stroke-width="1.0" />
<circle cx="291.80" cy="415.40" r="1.6" fill="#5fa037" />
<circle cx="299.10" cy="443.20" r="1.6" fill="#5fa037" />
<line x1="335.60" y1="461.60" x2="335.60" y2="465.60" stroke="#6aaa45" stroke-width="1.0" />
<line x1="334.20" y1="461.60" x2="337.00" y2="461.60" stroke="#6aaa45" stroke-width="1.0" />
<line x1="334.20" y1="465.60" x2="337.00" y2="465.60" stroke="#6aaa45" stroke-width="1.0" />
<circle cx="335.60" cy="463.60" r="1.6" fill="#5fa037" />
<circle cx="342.90" cy="443.30" r="1.6" fill="#5fa037" />
<circle cx="362.20" cy="467.80" r="1.6" fill="#5fa037" />
<polyline points="233.40,404.50 248.00,376.60 255.30,381.00 262.60,369.60 269.90,359.10 277.20,355.30 284.50,362.30 291.80,347.40 299.10,350.30 335.60,368.30 342.90,398.90" fill="none" stroke="#404aa0" stroke-width="1.1" stroke-linejoin="miter" />
<polyline points="346.00,401.58 362.20,415.60" fill="none" stroke="#404aa0" stroke-width="1.1" stroke-linejoin="miter" />
<circle cx="233.40" cy="404.50" r="1.6" fill="#2d3291" />
<line x1="248.00" y1="369.90" x2="248.00" y2="390.60" stroke="#404aa0" stroke-width="1.0" />
<line x1="246.60" y1="369.90" x2="249.40" y2="369.90" stroke="#404aa0" stroke-width="1.0" />
<line x1="246.60" y1="390.60" x2="249.40" y2="390.60" stroke="#404aa0" stroke-width="1.0" />
<circle cx="248.00" cy="376.60" r="1.6" fill="#2d3291" />
<line x1="255.30" y1="374.70" x2="255.30" y2="392.00" stroke="#404aa0" stroke-width="1.0" />
<line x1="253.90" y1="374.70" x2="256.70" y2="374.70" stroke="#404aa0" stroke-width="1.0" />
<line x1="253.90" y1="392.00" x2="256.70" y2="392.00" stroke="#404aa0" stroke-width="1.0" />
<circle cx="255.30" cy="381.00" r="1.6" fill="#2d3291" />
<line x1="262.60" y1="366.60" x2="262.60" y2="372.60" stroke="#404aa0" stroke-width="1.0" />
<line x1="261.20" y1="366.60" x2="264.00" y2="366.60" stroke="#404aa0" stroke-width="1.0" />
<line x1="261.20" y1="372.60" x2="264.00" y2="372.60" stroke="#404aa0" stroke-width="1.0" />
<circle cx="262.60" cy="369.60" r="1.6" fill="#2d3291" />
<line x1="269.90" y1="355.10" x2="269.90" y2="363.10" stroke="#404aa0" stroke-width="1.0" />
<line x1="268.50" y1="355.10" x2="271.30" y2="355.10" stroke="#404aa0" stroke-width="1.0" />
<line x1="268.50" y1="363.10" x2="271.30" y2="363.10" stroke="#404aa0" stroke-width="1.0" />
<circle cx="269.90" cy="359.10" r="1.6" fill="#2d3291" />
<line x1="277.20" y1="350.00" x2="277.20" y2="365.20" stroke="#404aa0" stroke-width="1.0" />
<line x1="275.80" y1="350.00" x2="278.60" y2="350.00" stroke="#404aa0" stroke-width="1.0" />
<line x1="275.80" y1="365.20" x2="278.60" y2="365.20" stroke="#404aa0" stroke-width="1.0" />
<circle cx="277.20" cy="355.30" r="1.6" fill="#2d3291" />
<line x1="284.50" y1="357.20" x2="284.50" y2="369.10" stroke="#404aa0" stroke-width="1.0" />
<line x1="283.10" y1="357.20" x2="285.90" y2="357.20" stroke="#404aa0" stroke-width="1.0" />
<line x1="283.10" y1="369.10" x2="285.90" y2="369.10" stroke="#404aa0" stroke-width="1.0" />
<circle cx="284.50" cy="362.30" r="1.6" fill="#2d3291" />
<circle cx="291.80" cy="347.40" r="1.6" fill="#2d3291" />
<line x1="299.10" y1="346.80" x2="299.10" y2="353.80" stroke="#404aa0" stroke-width="1.0" />
<line x1="297.70" y1="346.80" x2="300.50" y2="346.80" stroke="#404aa0" stroke-width="1.0" />
<line x1="297.70" y1="353.80" x2="300.50" y2="353.80" stroke="#404aa0" stroke-width="1.0" />
<circle cx="299.10" cy="350.30" r="1.6" fill="#2d3291" />
<line x1="335.60" y1="365.30" x2="335.60" y2="371.30" stroke="#404aa0" stroke-width="1.0" />
<line x1="334.20" y1="365.30" x2="337.00" y2="365.30" stroke="#404aa0" stroke-width="1.0" />
<line x1="334.20" y1="371.30" x2="337.00" y2="371.30" stroke="#404aa0" stroke-width="1.0" />
<circle cx="335.60" cy="368.30" r="1.6" fill="#2d3291" />
<line x1="342.90" y1="394.90" x2="342.90" y2="402.90" stroke="#404aa0" stroke-width="1.0" />
<line x1="341.50" y1="394.90" x2="344.30" y2="394.90" stroke="#404aa0" stroke-width="1.0" />
<line x1="341.50" y1="402.90" x2="344.30" y2="402.90" stroke="#404aa0" stroke-width="1.0" />
<circle cx="342.90" cy="398.90" r="1.6" fill="#2d3291" />
<line x1="362.20" y1="410.60" x2="362.20" y2="420.60" stroke="#404aa0" stroke-width="1.0" />
<line x1="360.80" y1="410.60" x2="363.60" y2="410.60" stroke="#404aa0" stroke-width="1.0" />
<line x1="360.80" y1="420.60" x2="363.60" y2="420.60" stroke="#404aa0" stroke-width="1.0" />
<circle cx="362.20" cy="415.60" r="1.6" fill="#2d3291" />
<defs>
<clipPath id="eclip"><rect x="399.1" y="335.9" width="113.60" height="134.30"/></clipPath>
<filter id="soft" x="-20%" y="-20%" width="140%" height="140%"><feGaussianBlur stdDeviation="0.55"/></filter>
<filter id="soft2" x="-30%" y="-30%" width="160%" height="160%"><feGaussianBlur stdDeviation="1.2"/></filter>
<filter id="mottle" x="-10%" y="-10%" width="120%" height="120%">
<feGaussianBlur in="SourceGraphic" stdDeviation="0.6" result="base"/>
<feTurbulence type="fractalNoise" baseFrequency="0.5" numOctaves="2" seed="7" result="n"/>
<feColorMatrix in="n" type="matrix" values="0 0 0 0 0.80  0 0 0 0 0.56  0 0 0 0 0.80  1.0 0 0 0 -0.56" result="spots"/>
<feComposite in="spots" in2="base" operator="in" result="s2"/>
<feTurbulence type="fractalNoise" baseFrequency="0.35" numOctaves="2" seed="19" result="n2"/>
<feColorMatrix in="n2" type="matrix" values="0 0 0 0 0.42  0 0 0 0 0.18  0 0 0 0 0.52  1.6 0 0 0 -0.60" result="dk"/>
<feComposite in="dk" in2="base" operator="in" result="d2"/>
<feMerge><feMergeNode in="base"/><feMergeNode in="d2"/><feMergeNode in="s2"/></feMerge>
</filter>
<filter id="grain" x="0" y="0" width="100%" height="100%">
<feTurbulence type="fractalNoise" baseFrequency="0.8" numOctaves="1" seed="2" result="n"/>
<feColorMatrix in="n" type="matrix" values="0 0 0 0 0.55  0 0 0 0 0.5  0 0 0 0 0.8  1.2 0 0 0 -0.55" result="spots"/>
<feComposite in="spots" in2="SourceGraphic" operator="in" result="s2"/>
<feMerge><feMergeNode in="SourceGraphic"/><feMergeNode in="s2"/></feMerge>
</filter>
<radialGradient id="lg" cx="50%" cy="50%" r="50%"><stop offset="0" stop-color="#2e1e68"/><stop offset="0.7" stop-color="#352472"/><stop offset="1" stop-color="#4a3b8c"/></radialGradient>
<radialGradient id="lg2" cx="50%" cy="50%" r="50%"><stop offset="0" stop-color="#26175a"/><stop offset="0.7" stop-color="#2c1c62"/><stop offset="1" stop-color="#413278"/></radialGradient>
<filter id="cytof" x="-30%" y="-30%" width="160%" height="160%">
<feGaussianBlur in="SourceGraphic" stdDeviation="1.1" result="base"/>
<feTurbulence type="fractalNoise" baseFrequency="0.6" numOctaves="2" seed="11" result="n"/>
<feColorMatrix in="n" type="matrix" values="0 0 0 0 0.97  0 0 0 0 0.96  0 0 0 0 1.0  1.4 0 0 0 -0.62" result="spots"/>
<feComposite in="spots" in2="base" operator="in" result="s2"/>
<feTurbulence type="fractalNoise" baseFrequency="0.5" numOctaves="2" seed="23" result="n2"/>
<feColorMatrix in="n2" type="matrix" values="0 0 0 0 0.62  0 0 0 0 0.60  0 0 0 0 0.80  1.3 0 0 0 -0.6" result="dk"/>
<feComposite in="dk" in2="base" operator="in" result="d2"/>
<feMerge><feMergeNode in="base"/><feMergeNode in="d2"/><feMergeNode in="s2"/></feMerge>
</filter>
</defs>
<g clip-path="url(#eclip)">
<rect x="399.1" y="335.9" width="113.60" height="134.30" fill="#f2f1f8"/>
<g filter="url(#cytof)" fill="#cfcce5">
<path d="M398.0,359.0 C399.2,352.1 403.0,356.2 405.5,355.4 C408.0,354.6 410.6,354.0 413.2,354.3 C415.8,354.6 418.4,356.0 420.8,357.0 C423.2,358.0 425.2,358.9 427.4,360.3 C429.6,361.8 432.1,363.5 433.9,365.7 C435.7,367.9 437.2,370.8 438.3,373.4 C439.4,375.9 440.6,378.6 440.4,381.0 C440.2,383.4 439.1,386.2 437.0,388.0 C434.9,389.8 431.5,390.7 428.0,392.0 C424.5,393.3 421.0,395.2 416.0,396.0 C411.0,396.8 401.0,403.2 398.0,397.0 C395.0,390.8 396.8,365.9 398.0,359.0 Z"/>
<path d="M436.0,386.0 C438.3,384.0 442.3,382.5 446.0,382.0 C449.7,381.5 454.3,381.7 458.0,383.0 C461.7,384.3 465.0,387.5 468.0,390.0 C471.0,392.5 474.0,395.3 476.0,398.0 C478.0,400.7 479.7,403.3 480.0,406.0 C480.3,408.7 478.5,411.0 478.0,414.0 C477.5,417.0 477.3,420.8 477.0,424.0 C476.7,427.2 477.5,431.0 476.0,433.0 C474.5,435.0 471.3,435.5 468.0,436.0 C464.7,436.5 459.7,436.5 456.0,436.0 C452.3,435.5 449.0,434.3 446.0,433.0 C443.0,431.7 440.2,430.5 438.0,428.0 C435.8,425.5 434.0,421.8 433.0,418.0 C432.0,414.2 432.2,409.0 432.0,405.0 C431.8,401.0 431.3,397.2 432.0,394.0 C432.7,390.8 433.7,388.0 436.0,386.0 Z"/>
<path d="M444.0,376.0 C444.7,374.0 449.0,373.3 452.0,374.0 C455.0,374.7 459.0,377.7 462.0,380.0 C465.0,382.3 468.7,385.0 470.0,388.0 C471.3,391.0 471.7,396.7 470.0,398.0 C468.3,399.3 463.7,398.0 460.0,396.0 C456.3,394.0 450.7,389.3 448.0,386.0 C445.3,382.7 443.3,378.0 444.0,376.0 Z"/>
<path d="M404.0,433.0 C405.7,429.5 410.3,431.2 414.0,431.0 C417.7,430.8 421.7,430.0 426.0,432.0 C430.3,434.0 435.7,440.5 440.0,443.0 C444.3,445.5 449.2,444.8 452.0,447.0 C454.8,449.2 456.3,452.3 457.0,456.0 C457.7,459.7 457.8,466.5 456.0,469.0 C454.2,471.5 450.7,471.2 446.0,471.0 C441.3,470.8 432.7,469.8 428.0,468.0 C423.3,466.2 422.0,462.7 418.0,460.0 C414.0,457.3 406.3,456.5 404.0,452.0 C401.7,447.5 402.3,436.5 404.0,433.0 Z"/>
<path d="M488.0,396.0 C490.3,394.3 496.0,399.0 500.0,400.0 C504.0,401.0 509.8,395.3 512.0,402.0 C514.2,408.7 514.2,432.7 513.0,440.0 C511.8,447.3 508.2,445.3 505.0,446.0 C501.8,446.7 496.5,446.7 494.0,444.0 C491.5,441.3 491.3,435.7 490.0,430.0 C488.7,424.3 486.3,415.7 486.0,410.0 C485.7,404.3 485.7,397.7 488.0,396.0 Z"/>
<path d="M490.0,452.0 C492.3,449.5 496.2,448.0 500.0,447.0 C503.8,446.0 510.8,442.0 513.0,446.0 C515.2,450.0 516.8,466.8 513.0,471.0 C509.2,475.2 494.5,472.5 490.0,471.0 C485.5,469.5 486.0,465.2 486.0,462.0 C486.0,458.8 487.7,454.5 490.0,452.0 Z"/>
<path d="M398.0,396.0 C400.0,389.5 407.2,394.5 410.0,396.0 C412.8,397.5 414.5,401.3 415.0,405.0 C415.5,408.7 413.8,413.8 413.0,418.0 C412.2,422.2 412.5,427.2 410.0,430.0 C407.5,432.8 400.0,440.7 398.0,435.0 C396.0,429.3 396.0,402.5 398.0,396.0 Z"/>
<path d="M420.0,398.0 C422.3,395.5 429.3,393.0 432.0,395.0 C434.7,397.0 435.3,404.5 436.0,410.0 C436.7,415.5 437.3,424.7 436.0,428.0 C434.7,431.3 430.7,430.5 428.0,430.0 C425.3,429.5 421.7,428.3 420.0,425.0 C418.3,421.7 418.0,414.5 418.0,410.0 C418.0,405.5 417.7,400.5 420.0,398.0 Z"/>
</g>
<g filter="url(#soft)">
<circle cx="468.1" cy="414.5" r="7.0" fill="#fdfcff" stroke="#b9b3d8" stroke-width="0.9"/>
<circle cx="469.9" cy="424.9" r="6.4" fill="#fdfcff" stroke="#b9b3d8" stroke-width="0.9"/>
<circle cx="457.1" cy="427.6" r="6.0" fill="#ffffff" stroke="#c0bbdd" stroke-width="0.9"/>
<circle cx="445.5" cy="425.8" r="4.6" fill="#eee4ee"/>
<circle cx="412.1" cy="360.3" r="2.6" fill="#fbfaff"/>
<circle cx="421.4" cy="365.7" r="2.6" fill="#f7f5fc"/>
<circle cx="425.7" cy="366.3" r="2.1" fill="#f7f5fc"/>
<circle cx="456.5" cy="440.2" r="3.2" fill="#eadde8"/>
<ellipse cx="468.3" cy="417.0" rx="2.4" ry="1.8" fill="#a8a0c8"/>
</g>
<g filter="url(#mottle)">
<path d="M399.0,369.0 C400.5,365.9 403.5,367.6 406.0,367.4 C408.5,367.2 411.5,367.4 414.0,368.0 C416.5,368.6 419.2,369.3 421.0,371.0 C422.8,372.7 424.1,375.5 424.6,378.0 C425.1,380.5 424.9,383.8 424.0,386.0 C423.1,388.2 421.3,390.3 419.0,391.5 C416.7,392.7 413.0,392.9 410.0,393.0 C407.0,393.1 403.2,393.2 401.0,392.0 C398.8,390.8 397.3,389.8 397.0,386.0 C396.7,382.2 397.5,372.1 399.0,369.0 Z" fill="#8a3688"/>
<path d="M436.0,392.0 C437.2,390.1 439.3,389.1 442.0,388.5 C444.7,387.9 449.0,388.1 452.0,388.3 C455.0,388.6 457.8,388.7 460.0,390.0 C462.2,391.3 464.2,393.7 465.0,396.0 C465.8,398.3 465.3,401.7 464.5,404.0 C463.7,406.3 462.1,408.4 460.0,410.0 C457.9,411.6 454.7,413.3 452.0,413.8 C449.3,414.3 446.5,414.0 444.0,413.0 C441.5,412.0 438.5,410.2 437.0,408.0 C435.5,405.8 435.0,402.7 434.8,400.0 C434.6,397.3 434.8,393.9 436.0,392.0 Z" fill="#8a3889"/>
<path d="M486.0,376.0 C487.1,373.8 490.6,373.2 492.9,371.9 C495.2,370.5 497.6,369.2 499.8,367.9 C502.0,366.6 503.9,365.1 506.0,364.0 C508.1,362.9 510.9,360.4 512.2,361.4 C513.5,362.4 513.7,363.9 514.0,370.0 C514.3,376.1 514.9,393.4 514.0,398.0 C513.1,402.6 511.2,397.3 508.8,397.7 C506.4,398.1 502.8,400.4 499.8,400.6 C496.8,400.8 493.0,399.7 490.9,398.7 C488.8,397.7 488.2,397.0 487.4,394.7 C486.6,392.4 486.2,388.1 486.0,385.0 C485.8,381.9 484.9,378.2 486.0,376.0 Z" fill="#983e8e"/>
<path d="M397.0,413.0 C398.2,409.1 401.7,412.8 404.0,413.5 C406.3,414.2 409.1,415.2 411.0,417.0 C412.9,418.8 414.7,421.7 415.5,424.0 C416.3,426.3 416.6,428.9 416.0,431.0 C415.4,433.1 413.8,435.5 412.0,436.5 C410.2,437.5 407.5,436.9 405.0,437.0 C402.5,437.1 398.3,441.0 397.0,437.0 C395.7,433.0 395.8,416.9 397.0,413.0 Z" fill="#883486"/>
<path d="M409.0,438.0 C410.2,437.1 412.8,436.1 415.0,435.8 C417.2,435.5 420.1,435.3 422.0,436.0 C423.9,436.7 425.8,438.2 426.5,440.0 C427.2,441.8 426.6,445.0 426.0,447.0 C425.4,449.0 424.3,450.7 423.0,452.0 C421.7,453.3 419.8,454.6 418.0,455.0 C416.2,455.4 413.6,455.2 412.0,454.5 C410.4,453.8 409.3,452.4 408.5,451.0 C407.7,449.6 407.3,447.7 407.2,446.0 C407.1,444.3 407.7,442.3 408.0,441.0 C408.3,439.7 407.8,438.9 409.0,438.0 Z" fill="#822c7e"/>
<path d="M428.0,431.0 C428.9,429.9 431.0,428.9 433.0,428.5 C435.0,428.1 438.1,428.1 440.0,428.7 C441.9,429.3 443.9,430.4 444.7,432.0 C445.4,433.6 445.3,436.4 444.5,438.0 C443.7,439.6 441.9,441.1 440.0,441.8 C438.1,442.5 434.9,442.5 433.0,442.0 C431.1,441.5 429.4,440.2 428.5,439.0 C427.6,437.8 427.8,436.3 427.7,435.0 C427.6,433.7 427.1,432.1 428.0,431.0 Z" fill="#6a2470"/>
<path d="M427.0,452.0 C427.9,450.6 429.8,448.5 432.0,447.5 C434.2,446.5 437.3,446.1 440.0,446.1 C442.7,446.1 446.0,446.5 448.0,447.5 C450.0,448.5 451.5,450.1 451.8,452.0 C452.1,453.9 451.5,457.1 450.0,459.0 C448.5,460.9 445.7,462.7 443.0,463.5 C440.3,464.3 436.5,464.3 434.0,463.7 C431.5,463.1 429.2,461.3 428.0,460.0 C426.8,458.7 426.8,457.3 426.6,456.0 C426.4,454.7 426.1,453.4 427.0,452.0 Z" fill="#8a3889"/>
<path d="M500.0,450.0 C501.5,447.3 503.8,446.8 506.0,446.0 C508.2,445.2 511.7,440.8 513.0,445.0 C514.3,449.2 516.2,466.7 514.0,471.0 C511.8,475.3 502.8,472.5 500.0,471.0 C497.2,469.5 497.0,465.5 497.0,462.0 C497.0,458.5 498.5,452.7 500.0,450.0 Z" fill="#8e3a88"/>
</g>
<g filter="url(#soft)">
<ellipse cx="462.4" cy="373.0" rx="12.2" ry="10.6" transform="rotate(30 462.4 373.0)" fill="url(#lg)"/>
<ellipse cx="483.1" cy="363.3" rx="11.1" ry="11.0" transform="rotate(0 483.1 363.3)" fill="url(#lg)"/>
<ellipse cx="478.8" cy="386.6" rx="9.8" ry="9.6" transform="rotate(0 478.8 386.6)" fill="url(#lg)"/>
<ellipse cx="428.7" cy="399.3" rx="7.0" ry="6.8" transform="rotate(0 428.7 399.3)" fill="url(#lg)"/>
<ellipse cx="416.5" cy="407.9" rx="6.8" ry="6.6" transform="rotate(0 416.5 407.9)" fill="url(#lg)"/>
<ellipse cx="427.3" cy="417.5" rx="7.0" ry="6.8" transform="rotate(0 427.3 417.5)" fill="url(#lg)"/>
<ellipse cx="486.7" cy="420.2" rx="8.6" ry="8.4" transform="rotate(0 486.7 420.2)" fill="url(#lg2)"/>
<ellipse cx="507.8" cy="416.5" rx="8.0" ry="9.0" transform="rotate(0 507.8 416.5)" fill="url(#lg)"/>
<ellipse cx="500.2" cy="437.6" rx="6.6" ry="6.4" transform="rotate(0 500.2 437.6)" fill="url(#lg2)"/>
<ellipse cx="457.0" cy="354.4" rx="7.5" ry="4.8" transform="rotate(-10 457 354.4)" fill="#9e92c4"/>
<ellipse cx="494.6" cy="463.5" rx="5.2" ry="4.6" fill="#7e72b0"/>
<circle cx="447.1" cy="361.5" r="3.4" fill="#c9a59c" stroke="#b6a8cc" stroke-width="0.8"/>
<circle cx="448.4" cy="438.6" r="4.0" fill="#c9a59c" stroke="#b6a8cc" stroke-width="0.8"/>
<circle cx="485.9" cy="456.0" r="3.8" fill="#c9a59c" stroke="#b6a8cc" stroke-width="0.8"/>
<circle cx="408.8" cy="363.0" r="2.1" fill="#4a3a80"/>
<circle cx="432.3" cy="360.3" r="1.1" fill="#4a3a80"/>
</g>
</g>
<text x="492.9" y="345.0" font-size="8.2" fill="#222" stroke="#222" stroke-width="0.15" textLength="16.3" lengthAdjust="spacingAndGlyphs">100x</text>
<text x="388.6" y="329.8" font-size="12.5" font-weight="bold" fill="#000">E</text>
<rect x="0" y="0" width="520" height="1.05" fill="#000"/>
<rect x="0" y="0" width="1.1" height="504" fill="#000"/>
<rect x="518.8" y="0" width="1.2" height="504" fill="#000"/>
<rect x="0" y="502.8" width="520" height="1.2" fill="#000"/>
</svg>
</body></html>
